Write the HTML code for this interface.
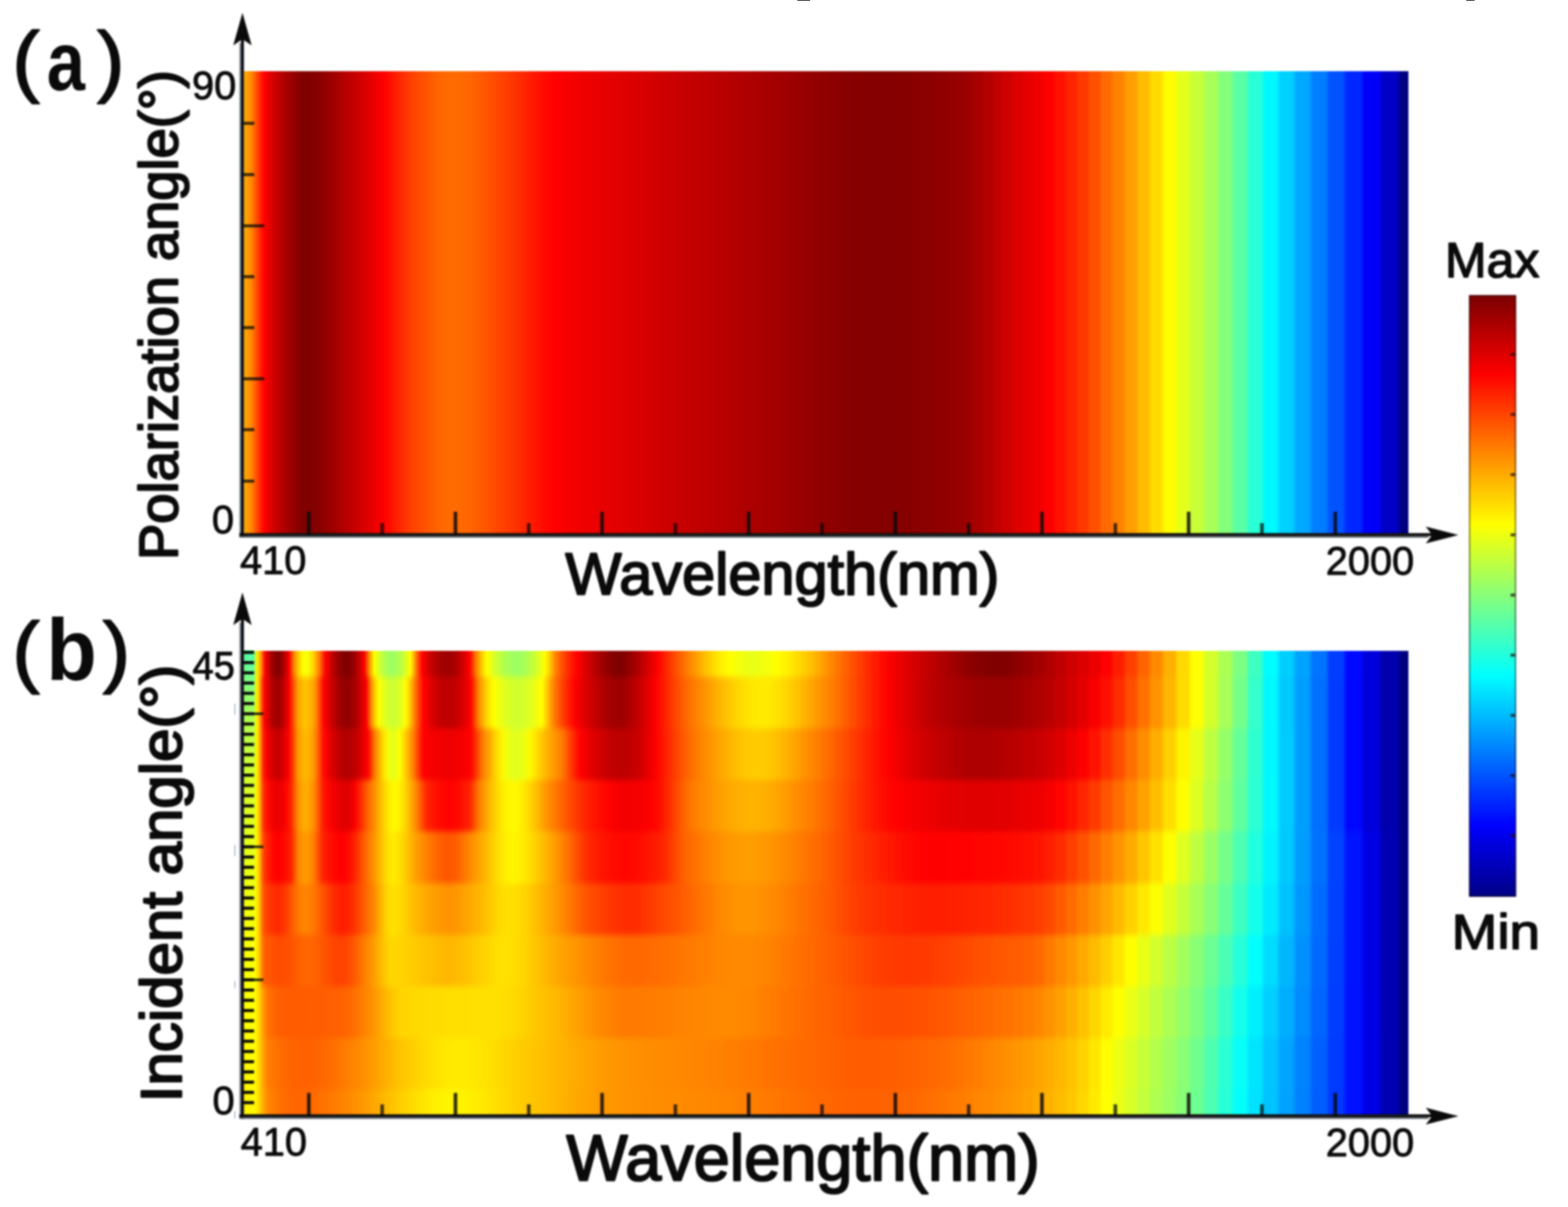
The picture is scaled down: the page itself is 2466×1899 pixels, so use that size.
<!DOCTYPE html>
<html lang="en">
<head>
<meta charset="utf-8">
<title>Absorption maps: polarization angle and incident angle versus wavelength</title>
<style>
html,body{margin:0;padding:0;background:#fff;}
body{width:2466px;height:1899px;overflow:hidden;font-family:"Liberation Sans",sans-serif;}
svg{display:block;}
</style>
</head>
<body>
<svg width="2466" height="1899" viewBox="0 0 2466 1899">
<defs>
<linearGradient id="ga" gradientUnits="userSpaceOnUse" x1="382.5" y1="0" x2="2215.0" y2="0"><stop offset="0.00%" stop-color="#ffae00"/><stop offset="0.03%" stop-color="#ffad00"/><stop offset="0.44%" stop-color="#ff9900"/><stop offset="0.52%" stop-color="#ff9400"/><stop offset="0.88%" stop-color="#ff7100"/><stop offset="1.32%" stop-color="#ff3600"/><stop offset="1.71%" stop-color="#ff0900"/><stop offset="1.83%" stop-color="#ff0000"/><stop offset="2.11%" stop-color="#ed0000"/><stop offset="2.52%" stop-color="#d70000"/><stop offset="2.94%" stop-color="#c30000"/><stop offset="3.37%" stop-color="#b30000"/><stop offset="3.68%" stop-color="#a80000"/><stop offset="3.82%" stop-color="#a40000"/><stop offset="4.28%" stop-color="#960000"/><stop offset="4.75%" stop-color="#890000"/><stop offset="5.14%" stop-color="#820000"/><stop offset="5.48%" stop-color="#800000"/><stop offset="5.54%" stop-color="#800000"/><stop offset="5.96%" stop-color="#820000"/><stop offset="6.38%" stop-color="#860000"/><stop offset="6.81%" stop-color="#8d0000"/><stop offset="7.26%" stop-color="#960000"/><stop offset="7.72%" stop-color="#a00000"/><stop offset="8.19%" stop-color="#aa0000"/><stop offset="8.59%" stop-color="#b30000"/><stop offset="8.67%" stop-color="#b40000"/><stop offset="9.17%" stop-color="#be0000"/><stop offset="9.55%" stop-color="#c60000"/><stop offset="9.94%" stop-color="#ce0000"/><stop offset="10.34%" stop-color="#d70000"/><stop offset="10.75%" stop-color="#e10000"/><stop offset="11.17%" stop-color="#ea0000"/><stop offset="11.60%" stop-color="#f50000"/><stop offset="12.03%" stop-color="#ff0000"/><stop offset="12.04%" stop-color="#ff0000"/><stop offset="12.49%" stop-color="#ff0c00"/><stop offset="12.95%" stop-color="#ff1900"/><stop offset="13.42%" stop-color="#ff2600"/><stop offset="13.90%" stop-color="#ff3300"/><stop offset="14.40%" stop-color="#ff3f00"/><stop offset="14.60%" stop-color="#ff4200"/><stop offset="14.90%" stop-color="#ff4700"/><stop offset="15.42%" stop-color="#ff5000"/><stop offset="15.96%" stop-color="#ff5900"/><stop offset="16.51%" stop-color="#ff6100"/><stop offset="17.07%" stop-color="#ff6700"/><stop offset="17.45%" stop-color="#ff6a00"/><stop offset="17.84%" stop-color="#ff6b00"/><stop offset="18.24%" stop-color="#ff6b00"/><stop offset="18.64%" stop-color="#ff6900"/><stop offset="19.05%" stop-color="#ff6700"/><stop offset="19.47%" stop-color="#ff6400"/><stop offset="19.90%" stop-color="#ff5f00"/><stop offset="20.34%" stop-color="#ff5a00"/><stop offset="20.78%" stop-color="#ff5500"/><stop offset="21.23%" stop-color="#ff4f00"/><stop offset="21.69%" stop-color="#ff4900"/><stop offset="22.16%" stop-color="#ff4300"/><stop offset="22.24%" stop-color="#ff4200"/><stop offset="22.64%" stop-color="#ff3d00"/><stop offset="23.13%" stop-color="#ff3600"/><stop offset="23.63%" stop-color="#ff2e00"/><stop offset="24.14%" stop-color="#ff2500"/><stop offset="24.66%" stop-color="#ff1c00"/><stop offset="25.19%" stop-color="#ff1400"/><stop offset="25.74%" stop-color="#ff0b00"/><stop offset="26.29%" stop-color="#ff0500"/><stop offset="26.77%" stop-color="#ff0000"/><stop offset="26.86%" stop-color="#fe0000"/><stop offset="27.44%" stop-color="#fa0000"/><stop offset="28.03%" stop-color="#f60000"/><stop offset="28.63%" stop-color="#f30000"/><stop offset="29.25%" stop-color="#ef0000"/><stop offset="29.89%" stop-color="#ec0000"/><stop offset="30.53%" stop-color="#e90000"/><stop offset="31.20%" stop-color="#e60000"/><stop offset="31.87%" stop-color="#e30000"/><stop offset="32.57%" stop-color="#e10000"/><stop offset="33.28%" stop-color="#dd0000"/><stop offset="33.70%" stop-color="#db0000"/><stop offset="34.01%" stop-color="#da0000"/><stop offset="34.76%" stop-color="#d60000"/><stop offset="35.53%" stop-color="#d20000"/><stop offset="35.92%" stop-color="#d00000"/><stop offset="36.31%" stop-color="#ce0000"/><stop offset="36.71%" stop-color="#cc0000"/><stop offset="37.12%" stop-color="#ca0000"/><stop offset="37.53%" stop-color="#c80000"/><stop offset="37.95%" stop-color="#c60000"/><stop offset="38.37%" stop-color="#c40000"/><stop offset="38.80%" stop-color="#c20000"/><stop offset="39.23%" stop-color="#c00000"/><stop offset="39.67%" stop-color="#be0000"/><stop offset="40.11%" stop-color="#bc0000"/><stop offset="40.57%" stop-color="#ba0000"/><stop offset="41.02%" stop-color="#b80000"/><stop offset="41.49%" stop-color="#b60000"/><stop offset="41.96%" stop-color="#b40000"/><stop offset="42.44%" stop-color="#b20000"/><stop offset="42.92%" stop-color="#af0000"/><stop offset="43.33%" stop-color="#ad0000"/><stop offset="43.49%" stop-color="#ad0000"/><stop offset="43.82%" stop-color="#ab0000"/><stop offset="43.99%" stop-color="#ab0000"/><stop offset="44.33%" stop-color="#a90000"/><stop offset="44.50%" stop-color="#a90000"/><stop offset="44.84%" stop-color="#a70000"/><stop offset="45.01%" stop-color="#a70000"/><stop offset="45.36%" stop-color="#a50000"/><stop offset="45.53%" stop-color="#a50000"/><stop offset="45.89%" stop-color="#a20000"/><stop offset="46.06%" stop-color="#a20000"/><stop offset="46.42%" stop-color="#a00000"/><stop offset="46.60%" stop-color="#a00000"/><stop offset="46.96%" stop-color="#9d0000"/><stop offset="47.14%" stop-color="#9d0000"/><stop offset="47.51%" stop-color="#9b0000"/><stop offset="47.70%" stop-color="#9b0000"/><stop offset="48.07%" stop-color="#980000"/><stop offset="48.26%" stop-color="#980000"/><stop offset="48.64%" stop-color="#950000"/><stop offset="48.83%" stop-color="#950000"/><stop offset="49.21%" stop-color="#920000"/><stop offset="49.41%" stop-color="#920000"/><stop offset="49.79%" stop-color="#900000"/><stop offset="50.00%" stop-color="#900000"/><stop offset="50.39%" stop-color="#8d0000"/><stop offset="50.60%" stop-color="#8d0000"/><stop offset="50.99%" stop-color="#8b0000"/><stop offset="51.21%" stop-color="#8b0000"/><stop offset="51.60%" stop-color="#890000"/><stop offset="51.83%" stop-color="#890000"/><stop offset="52.22%" stop-color="#870000"/><stop offset="52.46%" stop-color="#870000"/><stop offset="52.85%" stop-color="#860000"/><stop offset="53.10%" stop-color="#860000"/><stop offset="53.49%" stop-color="#850000"/><stop offset="55.77%" stop-color="#850000"/><stop offset="56.16%" stop-color="#860000"/><stop offset="56.47%" stop-color="#860000"/><stop offset="56.85%" stop-color="#870000"/><stop offset="57.18%" stop-color="#870000"/><stop offset="57.56%" stop-color="#890000"/><stop offset="57.90%" stop-color="#890000"/><stop offset="58.28%" stop-color="#8b0000"/><stop offset="58.63%" stop-color="#8b0000"/><stop offset="59.01%" stop-color="#8d0000"/><stop offset="59.37%" stop-color="#8d0000"/><stop offset="59.76%" stop-color="#900000"/><stop offset="60.13%" stop-color="#900000"/><stop offset="60.51%" stop-color="#930000"/><stop offset="60.91%" stop-color="#930000"/><stop offset="61.29%" stop-color="#970000"/><stop offset="61.69%" stop-color="#970000"/><stop offset="62.07%" stop-color="#9e0000"/><stop offset="62.49%" stop-color="#9e0000"/><stop offset="62.87%" stop-color="#a80000"/><stop offset="63.31%" stop-color="#a80000"/><stop offset="63.69%" stop-color="#b50000"/><stop offset="64.14%" stop-color="#b50000"/><stop offset="64.52%" stop-color="#c20000"/><stop offset="64.98%" stop-color="#c20000"/><stop offset="65.36%" stop-color="#cf0000"/><stop offset="65.84%" stop-color="#cf0000"/><stop offset="66.23%" stop-color="#dc0000"/><stop offset="66.72%" stop-color="#dc0000"/><stop offset="67.11%" stop-color="#e70000"/><stop offset="67.62%" stop-color="#e70000"/><stop offset="68.00%" stop-color="#f20000"/><stop offset="68.53%" stop-color="#f20000"/><stop offset="68.91%" stop-color="#ff0000"/><stop offset="69.46%" stop-color="#ff0000"/><stop offset="69.84%" stop-color="#ff1100"/><stop offset="70.41%" stop-color="#ff1100"/><stop offset="70.79%" stop-color="#ff2400"/><stop offset="71.38%" stop-color="#ff2400"/><stop offset="71.76%" stop-color="#ff3900"/><stop offset="72.37%" stop-color="#ff3900"/><stop offset="72.75%" stop-color="#ff5000"/><stop offset="73.38%" stop-color="#ff5000"/><stop offset="73.76%" stop-color="#ff6900"/><stop offset="74.41%" stop-color="#ff6900"/><stop offset="74.79%" stop-color="#ff8200"/><stop offset="75.46%" stop-color="#ff8200"/><stop offset="75.84%" stop-color="#ff9e00"/><stop offset="76.53%" stop-color="#ff9e00"/><stop offset="76.91%" stop-color="#ffbc00"/><stop offset="77.62%" stop-color="#ffbc00"/><stop offset="78.01%" stop-color="#ffdc00"/><stop offset="78.74%" stop-color="#ffdc00"/><stop offset="79.13%" stop-color="#fffb00"/><stop offset="79.89%" stop-color="#fffb00"/><stop offset="80.27%" stop-color="#e4ff1b"/><stop offset="81.06%" stop-color="#e4ff1b"/><stop offset="81.44%" stop-color="#c7ff38"/><stop offset="82.25%" stop-color="#c7ff38"/><stop offset="82.63%" stop-color="#a7ff58"/><stop offset="83.47%" stop-color="#a7ff58"/><stop offset="83.86%" stop-color="#84ff7b"/><stop offset="84.72%" stop-color="#84ff7b"/><stop offset="85.11%" stop-color="#5affa5"/><stop offset="86.00%" stop-color="#5affa5"/><stop offset="86.39%" stop-color="#29ffd6"/><stop offset="87.31%" stop-color="#29ffd6"/><stop offset="87.69%" stop-color="#00f9ff"/><stop offset="88.65%" stop-color="#00f9ff"/><stop offset="89.03%" stop-color="#00d0ff"/><stop offset="90.02%" stop-color="#00d0ff"/><stop offset="90.41%" stop-color="#00a8ff"/><stop offset="91.43%" stop-color="#00a8ff"/><stop offset="91.81%" stop-color="#007eff"/><stop offset="92.87%" stop-color="#007eff"/><stop offset="93.25%" stop-color="#0053ff"/><stop offset="94.34%" stop-color="#0053ff"/><stop offset="94.73%" stop-color="#0027ff"/><stop offset="95.86%" stop-color="#0027ff"/><stop offset="96.24%" stop-color="#0000f7"/><stop offset="97.41%" stop-color="#0000f7"/><stop offset="97.79%" stop-color="#0000c7"/><stop offset="99.00%" stop-color="#0000c7"/><stop offset="99.38%" stop-color="#000080"/><stop offset="100.00%" stop-color="#000080"/></linearGradient>
<linearGradient id="gb0" gradientUnits="userSpaceOnUse" x1="382.5" y1="0" x2="2215.0" y2="0"><stop offset="0.00%" stop-color="#80ff80"/><stop offset="0.79%" stop-color="#80ff80"/><stop offset="0.88%" stop-color="#beff41"/><stop offset="0.95%" stop-color="#ffff00"/><stop offset="1.23%" stop-color="#ffe500"/><stop offset="1.32%" stop-color="#ffd200"/><stop offset="1.50%" stop-color="#ff9e00"/><stop offset="1.71%" stop-color="#ff4000"/><stop offset="1.88%" stop-color="#ff0000"/><stop offset="2.11%" stop-color="#d50000"/><stop offset="2.52%" stop-color="#9a0000"/><stop offset="2.94%" stop-color="#800000"/><stop offset="2.97%" stop-color="#800000"/><stop offset="3.37%" stop-color="#9a0000"/><stop offset="3.82%" stop-color="#e30000"/><stop offset="3.96%" stop-color="#ff0000"/><stop offset="4.28%" stop-color="#ff7000"/><stop offset="4.34%" stop-color="#ff8000"/><stop offset="4.75%" stop-color="#ffce00"/><stop offset="5.14%" stop-color="#feff01"/><stop offset="5.38%" stop-color="#f5ff0a"/><stop offset="5.54%" stop-color="#f9ff06"/><stop offset="5.96%" stop-color="#ffdb00"/><stop offset="6.38%" stop-color="#ff9700"/><stop offset="6.52%" stop-color="#ff8000"/><stop offset="6.81%" stop-color="#ff3800"/><stop offset="7.07%" stop-color="#ff0000"/><stop offset="7.26%" stop-color="#e90000"/><stop offset="7.72%" stop-color="#b90000"/><stop offset="8.19%" stop-color="#950000"/><stop offset="8.67%" stop-color="#810000"/><stop offset="8.87%" stop-color="#800000"/><stop offset="9.17%" stop-color="#850000"/><stop offset="9.55%" stop-color="#9c0000"/><stop offset="9.94%" stop-color="#c20000"/><stop offset="10.34%" stop-color="#f70000"/><stop offset="10.40%" stop-color="#ff0000"/><stop offset="10.75%" stop-color="#ff7800"/><stop offset="10.78%" stop-color="#ff8000"/><stop offset="11.17%" stop-color="#fff000"/><stop offset="11.27%" stop-color="#ffff00"/><stop offset="11.60%" stop-color="#dbff24"/><stop offset="12.04%" stop-color="#b7ff48"/><stop offset="12.49%" stop-color="#a1ff5e"/><stop offset="12.74%" stop-color="#9eff61"/><stop offset="12.95%" stop-color="#a0ff5f"/><stop offset="13.42%" stop-color="#b2ff4d"/><stop offset="13.90%" stop-color="#d5ff2a"/><stop offset="14.32%" stop-color="#ffff00"/><stop offset="14.40%" stop-color="#fff400"/><stop offset="14.82%" stop-color="#ff8000"/><stop offset="14.90%" stop-color="#ff6800"/><stop offset="15.36%" stop-color="#ff0000"/><stop offset="15.42%" stop-color="#fa0000"/><stop offset="15.96%" stop-color="#d20000"/><stop offset="16.51%" stop-color="#b50000"/><stop offset="17.07%" stop-color="#a30000"/><stop offset="17.45%" stop-color="#9e0000"/><stop offset="17.54%" stop-color="#9e0000"/><stop offset="17.84%" stop-color="#a10000"/><stop offset="18.24%" stop-color="#ad0000"/><stop offset="18.64%" stop-color="#c30000"/><stop offset="19.05%" stop-color="#e10000"/><stop offset="19.40%" stop-color="#ff0000"/><stop offset="19.47%" stop-color="#ff0900"/><stop offset="19.90%" stop-color="#ff6c00"/><stop offset="20.00%" stop-color="#ff8000"/><stop offset="20.34%" stop-color="#ffb800"/><stop offset="20.78%" stop-color="#fff300"/><stop offset="20.93%" stop-color="#ffff00"/><stop offset="21.23%" stop-color="#ecff13"/><stop offset="21.69%" stop-color="#d1ff2e"/><stop offset="22.16%" stop-color="#bbff44"/><stop offset="22.64%" stop-color="#aaff55"/><stop offset="23.13%" stop-color="#a0ff5f"/><stop offset="23.44%" stop-color="#9eff61"/><stop offset="23.63%" stop-color="#9fff60"/><stop offset="24.14%" stop-color="#a8ff57"/><stop offset="24.66%" stop-color="#baff45"/><stop offset="25.19%" stop-color="#d4ff2b"/><stop offset="25.74%" stop-color="#f5ff0a"/><stop offset="25.89%" stop-color="#ffff00"/><stop offset="26.29%" stop-color="#ffcd00"/><stop offset="26.82%" stop-color="#ff8000"/><stop offset="26.86%" stop-color="#ff7c00"/><stop offset="27.44%" stop-color="#ff4b00"/><stop offset="28.03%" stop-color="#ff2300"/><stop offset="28.63%" stop-color="#ff0200"/><stop offset="28.68%" stop-color="#ff0000"/><stop offset="29.25%" stop-color="#e30000"/><stop offset="29.89%" stop-color="#c50000"/><stop offset="30.53%" stop-color="#a90000"/><stop offset="31.20%" stop-color="#920000"/><stop offset="31.87%" stop-color="#830000"/><stop offset="32.39%" stop-color="#800000"/><stop offset="32.57%" stop-color="#810000"/><stop offset="33.28%" stop-color="#970000"/><stop offset="33.70%" stop-color="#a80000"/><stop offset="34.01%" stop-color="#b50000"/><stop offset="34.76%" stop-color="#d80000"/><stop offset="35.53%" stop-color="#fe0000"/><stop offset="35.55%" stop-color="#ff0000"/><stop offset="35.92%" stop-color="#ff1200"/><stop offset="36.31%" stop-color="#ff2600"/><stop offset="36.71%" stop-color="#ff3a00"/><stop offset="37.12%" stop-color="#ff4f00"/><stop offset="37.53%" stop-color="#ff6300"/><stop offset="37.95%" stop-color="#ff7600"/><stop offset="38.17%" stop-color="#ff8000"/><stop offset="38.37%" stop-color="#ff8800"/><stop offset="38.80%" stop-color="#ff9a00"/><stop offset="39.23%" stop-color="#ffad00"/><stop offset="39.67%" stop-color="#ffbf00"/><stop offset="40.11%" stop-color="#ffd000"/><stop offset="40.57%" stop-color="#ffe100"/><stop offset="41.02%" stop-color="#ffef00"/><stop offset="41.49%" stop-color="#fffa00"/><stop offset="41.77%" stop-color="#ffff00"/><stop offset="41.96%" stop-color="#fcff03"/><stop offset="42.44%" stop-color="#f5ff0a"/><stop offset="42.92%" stop-color="#efff10"/><stop offset="43.33%" stop-color="#ebff14"/><stop offset="43.99%" stop-color="#ebff14"/><stop offset="44.33%" stop-color="#eeff11"/><stop offset="44.50%" stop-color="#eeff11"/><stop offset="44.84%" stop-color="#f4ff0b"/><stop offset="45.01%" stop-color="#f4ff0b"/><stop offset="45.36%" stop-color="#fbff04"/><stop offset="45.53%" stop-color="#fbff04"/><stop offset="45.89%" stop-color="#fffc00"/><stop offset="46.06%" stop-color="#fffc00"/><stop offset="46.42%" stop-color="#fff300"/><stop offset="46.60%" stop-color="#fff300"/><stop offset="46.96%" stop-color="#ffe800"/><stop offset="47.14%" stop-color="#ffe800"/><stop offset="47.51%" stop-color="#ffdb00"/><stop offset="47.70%" stop-color="#ffdb00"/><stop offset="48.07%" stop-color="#ffce00"/><stop offset="48.26%" stop-color="#ffce00"/><stop offset="48.64%" stop-color="#ffbf00"/><stop offset="48.83%" stop-color="#ffbf00"/><stop offset="49.21%" stop-color="#ffad00"/><stop offset="49.41%" stop-color="#ffad00"/><stop offset="49.79%" stop-color="#ff9a00"/><stop offset="50.00%" stop-color="#ff9a00"/><stop offset="50.39%" stop-color="#ff8600"/><stop offset="50.60%" stop-color="#ff8600"/><stop offset="50.99%" stop-color="#ff7400"/><stop offset="51.21%" stop-color="#ff7400"/><stop offset="51.60%" stop-color="#ff6200"/><stop offset="51.83%" stop-color="#ff6200"/><stop offset="52.22%" stop-color="#ff5000"/><stop offset="52.46%" stop-color="#ff5000"/><stop offset="52.85%" stop-color="#ff3d00"/><stop offset="53.10%" stop-color="#ff3d00"/><stop offset="53.49%" stop-color="#ff2b00"/><stop offset="53.76%" stop-color="#ff2b00"/><stop offset="54.14%" stop-color="#ff1a00"/><stop offset="54.42%" stop-color="#ff1a00"/><stop offset="54.80%" stop-color="#ff0900"/><stop offset="55.09%" stop-color="#ff0900"/><stop offset="55.47%" stop-color="#f90000"/><stop offset="55.77%" stop-color="#f90000"/><stop offset="56.16%" stop-color="#ec0000"/><stop offset="56.47%" stop-color="#ec0000"/><stop offset="56.85%" stop-color="#de0000"/><stop offset="57.18%" stop-color="#de0000"/><stop offset="57.56%" stop-color="#d20000"/><stop offset="57.90%" stop-color="#d20000"/><stop offset="58.28%" stop-color="#c70000"/><stop offset="58.63%" stop-color="#c70000"/><stop offset="59.01%" stop-color="#bc0000"/><stop offset="59.37%" stop-color="#bc0000"/><stop offset="59.76%" stop-color="#b00000"/><stop offset="60.13%" stop-color="#b00000"/><stop offset="60.51%" stop-color="#a50000"/><stop offset="60.91%" stop-color="#a50000"/><stop offset="61.29%" stop-color="#990000"/><stop offset="61.69%" stop-color="#990000"/><stop offset="62.07%" stop-color="#8f0000"/><stop offset="62.49%" stop-color="#8f0000"/><stop offset="62.87%" stop-color="#870000"/><stop offset="63.31%" stop-color="#870000"/><stop offset="63.69%" stop-color="#810000"/><stop offset="64.14%" stop-color="#810000"/><stop offset="64.52%" stop-color="#800000"/><stop offset="64.98%" stop-color="#800000"/><stop offset="65.36%" stop-color="#830000"/><stop offset="65.84%" stop-color="#830000"/><stop offset="66.23%" stop-color="#8c0000"/><stop offset="66.72%" stop-color="#8c0000"/><stop offset="67.11%" stop-color="#970000"/><stop offset="67.62%" stop-color="#970000"/><stop offset="68.00%" stop-color="#a20000"/><stop offset="68.53%" stop-color="#a20000"/><stop offset="68.91%" stop-color="#b00000"/><stop offset="69.46%" stop-color="#b00000"/><stop offset="69.84%" stop-color="#bf0000"/><stop offset="70.41%" stop-color="#bf0000"/><stop offset="70.79%" stop-color="#ce0000"/><stop offset="71.38%" stop-color="#ce0000"/><stop offset="71.76%" stop-color="#dc0000"/><stop offset="72.37%" stop-color="#dc0000"/><stop offset="72.75%" stop-color="#ec0000"/><stop offset="73.38%" stop-color="#ec0000"/><stop offset="73.76%" stop-color="#ff0100"/><stop offset="74.41%" stop-color="#ff0100"/><stop offset="74.79%" stop-color="#ff1d00"/><stop offset="75.46%" stop-color="#ff1d00"/><stop offset="75.84%" stop-color="#ff3f00"/><stop offset="76.53%" stop-color="#ff3f00"/><stop offset="76.91%" stop-color="#ff6400"/><stop offset="77.62%" stop-color="#ff6400"/><stop offset="78.01%" stop-color="#ff8a00"/><stop offset="78.74%" stop-color="#ff8a00"/><stop offset="79.13%" stop-color="#ffb000"/><stop offset="79.89%" stop-color="#ffb000"/><stop offset="80.27%" stop-color="#ffd900"/><stop offset="81.06%" stop-color="#ffd900"/><stop offset="81.44%" stop-color="#fdff02"/><stop offset="82.25%" stop-color="#fdff02"/><stop offset="82.63%" stop-color="#d5ff2a"/><stop offset="83.47%" stop-color="#d5ff2a"/><stop offset="83.86%" stop-color="#acff53"/><stop offset="84.72%" stop-color="#acff53"/><stop offset="85.11%" stop-color="#7dff82"/><stop offset="86.00%" stop-color="#7dff82"/><stop offset="86.39%" stop-color="#3dffc2"/><stop offset="87.31%" stop-color="#3dffc2"/><stop offset="87.69%" stop-color="#00fdff"/><stop offset="88.65%" stop-color="#00fdff"/><stop offset="89.03%" stop-color="#00ceff"/><stop offset="90.02%" stop-color="#00ceff"/><stop offset="90.41%" stop-color="#00a3ff"/><stop offset="91.43%" stop-color="#00a3ff"/><stop offset="91.81%" stop-color="#0074ff"/><stop offset="92.87%" stop-color="#0074ff"/><stop offset="93.25%" stop-color="#003dff"/><stop offset="94.34%" stop-color="#003dff"/><stop offset="94.73%" stop-color="#0008ff"/><stop offset="95.86%" stop-color="#0008ff"/><stop offset="96.24%" stop-color="#0000da"/><stop offset="97.41%" stop-color="#0000da"/><stop offset="97.79%" stop-color="#0000ad"/><stop offset="99.00%" stop-color="#0000ad"/><stop offset="99.38%" stop-color="#000080"/><stop offset="100.00%" stop-color="#000080"/></linearGradient>
<linearGradient id="gb1" gradientUnits="userSpaceOnUse" x1="382.5" y1="0" x2="2215.0" y2="0"><stop offset="0.00%" stop-color="#94ff6b"/><stop offset="0.79%" stop-color="#94ff6b"/><stop offset="0.88%" stop-color="#c8ff37"/><stop offset="0.95%" stop-color="#ffff00"/><stop offset="1.23%" stop-color="#ffe500"/><stop offset="1.32%" stop-color="#ffce00"/><stop offset="1.71%" stop-color="#ff2000"/><stop offset="1.83%" stop-color="#ff0000"/><stop offset="2.11%" stop-color="#d90000"/><stop offset="2.52%" stop-color="#b00000"/><stop offset="2.94%" stop-color="#9e0000"/><stop offset="2.97%" stop-color="#9e0000"/><stop offset="3.37%" stop-color="#b30000"/><stop offset="3.82%" stop-color="#eb0000"/><stop offset="3.96%" stop-color="#ff0000"/><stop offset="4.28%" stop-color="#ff4b00"/><stop offset="4.67%" stop-color="#ff9e00"/><stop offset="4.75%" stop-color="#ffa500"/><stop offset="5.14%" stop-color="#ffbd00"/><stop offset="5.38%" stop-color="#ffc200"/><stop offset="5.54%" stop-color="#ffbf00"/><stop offset="5.96%" stop-color="#ffa800"/><stop offset="6.08%" stop-color="#ff9e00"/><stop offset="6.38%" stop-color="#ff7100"/><stop offset="6.81%" stop-color="#ff1300"/><stop offset="6.96%" stop-color="#ff0000"/><stop offset="7.26%" stop-color="#e40000"/><stop offset="7.72%" stop-color="#c10000"/><stop offset="8.19%" stop-color="#a50000"/><stop offset="8.67%" stop-color="#950000"/><stop offset="8.87%" stop-color="#940000"/><stop offset="9.17%" stop-color="#970000"/><stop offset="9.55%" stop-color="#a60000"/><stop offset="9.94%" stop-color="#c00000"/><stop offset="10.34%" stop-color="#e60000"/><stop offset="10.56%" stop-color="#ff0000"/><stop offset="10.75%" stop-color="#ff3c00"/><stop offset="10.94%" stop-color="#ff8000"/><stop offset="11.17%" stop-color="#ffb500"/><stop offset="11.60%" stop-color="#fffb00"/><stop offset="11.65%" stop-color="#ffff00"/><stop offset="12.04%" stop-color="#e5ff1a"/><stop offset="12.49%" stop-color="#d2ff2d"/><stop offset="12.85%" stop-color="#ccff33"/><stop offset="12.95%" stop-color="#cdff32"/><stop offset="13.42%" stop-color="#dcff23"/><stop offset="13.90%" stop-color="#fcff03"/><stop offset="13.94%" stop-color="#ffff00"/><stop offset="14.40%" stop-color="#ffb900"/><stop offset="14.71%" stop-color="#ff8000"/><stop offset="14.90%" stop-color="#ff5d00"/><stop offset="15.42%" stop-color="#ff0800"/><stop offset="15.53%" stop-color="#ff0000"/><stop offset="15.96%" stop-color="#e70000"/><stop offset="16.51%" stop-color="#d00000"/><stop offset="17.07%" stop-color="#c10000"/><stop offset="17.45%" stop-color="#bd0000"/><stop offset="17.54%" stop-color="#bd0000"/><stop offset="17.84%" stop-color="#be0000"/><stop offset="18.24%" stop-color="#c50000"/><stop offset="18.64%" stop-color="#d20000"/><stop offset="19.05%" stop-color="#e40000"/><stop offset="19.47%" stop-color="#fd0000"/><stop offset="19.51%" stop-color="#ff0000"/><stop offset="19.90%" stop-color="#ff4a00"/><stop offset="20.16%" stop-color="#ff8000"/><stop offset="20.34%" stop-color="#ff9600"/><stop offset="20.78%" stop-color="#ffc900"/><stop offset="21.23%" stop-color="#ffef00"/><stop offset="21.53%" stop-color="#ffff00"/><stop offset="21.69%" stop-color="#f9ff06"/><stop offset="22.16%" stop-color="#e9ff16"/><stop offset="22.64%" stop-color="#dcff23"/><stop offset="23.13%" stop-color="#d4ff2b"/><stop offset="23.55%" stop-color="#d1ff2e"/><stop offset="23.63%" stop-color="#d1ff2e"/><stop offset="24.14%" stop-color="#d6ff29"/><stop offset="24.66%" stop-color="#e0ff1f"/><stop offset="25.19%" stop-color="#f1ff0e"/><stop offset="25.57%" stop-color="#ffff00"/><stop offset="25.74%" stop-color="#fff400"/><stop offset="26.29%" stop-color="#ffac00"/><stop offset="26.66%" stop-color="#ff8000"/><stop offset="26.86%" stop-color="#ff6e00"/><stop offset="27.44%" stop-color="#ff3f00"/><stop offset="28.03%" stop-color="#ff1800"/><stop offset="28.51%" stop-color="#ff0000"/><stop offset="28.63%" stop-color="#fa0000"/><stop offset="29.25%" stop-color="#e30000"/><stop offset="29.89%" stop-color="#cd0000"/><stop offset="30.53%" stop-color="#b90000"/><stop offset="31.20%" stop-color="#aa0000"/><stop offset="31.87%" stop-color="#a00000"/><stop offset="32.39%" stop-color="#9e0000"/><stop offset="32.57%" stop-color="#9f0000"/><stop offset="33.28%" stop-color="#b00000"/><stop offset="33.70%" stop-color="#bd0000"/><stop offset="34.01%" stop-color="#c70000"/><stop offset="34.76%" stop-color="#e50000"/><stop offset="35.39%" stop-color="#ff0000"/><stop offset="35.53%" stop-color="#ff0500"/><stop offset="35.92%" stop-color="#ff1500"/><stop offset="36.31%" stop-color="#ff2500"/><stop offset="36.71%" stop-color="#ff3500"/><stop offset="37.12%" stop-color="#ff4600"/><stop offset="37.53%" stop-color="#ff5600"/><stop offset="37.95%" stop-color="#ff6500"/><stop offset="38.37%" stop-color="#ff7300"/><stop offset="38.80%" stop-color="#ff7f00"/><stop offset="38.83%" stop-color="#ff8000"/><stop offset="39.23%" stop-color="#ff8a00"/><stop offset="39.67%" stop-color="#ff9500"/><stop offset="40.11%" stop-color="#ffa100"/><stop offset="40.57%" stop-color="#ffad00"/><stop offset="41.02%" stop-color="#ffb800"/><stop offset="41.49%" stop-color="#ffc300"/><stop offset="41.96%" stop-color="#ffcd00"/><stop offset="42.44%" stop-color="#ffd600"/><stop offset="42.92%" stop-color="#ffde00"/><stop offset="43.33%" stop-color="#ffe400"/><stop offset="43.49%" stop-color="#ffe400"/><stop offset="43.82%" stop-color="#ffe800"/><stop offset="43.99%" stop-color="#ffe800"/><stop offset="44.33%" stop-color="#ffea00"/><stop offset="45.01%" stop-color="#ffea00"/><stop offset="45.36%" stop-color="#ffe600"/><stop offset="45.53%" stop-color="#ffe600"/><stop offset="45.89%" stop-color="#ffe000"/><stop offset="46.06%" stop-color="#ffe000"/><stop offset="46.42%" stop-color="#ffd700"/><stop offset="46.60%" stop-color="#ffd700"/><stop offset="46.96%" stop-color="#ffcd00"/><stop offset="47.14%" stop-color="#ffcd00"/><stop offset="47.51%" stop-color="#ffc100"/><stop offset="47.70%" stop-color="#ffc100"/><stop offset="48.07%" stop-color="#ffb400"/><stop offset="48.26%" stop-color="#ffb400"/><stop offset="48.64%" stop-color="#ffa600"/><stop offset="48.83%" stop-color="#ffa600"/><stop offset="49.21%" stop-color="#ff9800"/><stop offset="49.41%" stop-color="#ff9800"/><stop offset="49.79%" stop-color="#ff8b00"/><stop offset="50.00%" stop-color="#ff8b00"/><stop offset="50.39%" stop-color="#ff7e00"/><stop offset="50.60%" stop-color="#ff7e00"/><stop offset="50.99%" stop-color="#ff6f00"/><stop offset="51.21%" stop-color="#ff6f00"/><stop offset="51.60%" stop-color="#ff5e00"/><stop offset="51.83%" stop-color="#ff5e00"/><stop offset="52.22%" stop-color="#ff4d00"/><stop offset="52.46%" stop-color="#ff4d00"/><stop offset="52.85%" stop-color="#ff3b00"/><stop offset="53.10%" stop-color="#ff3b00"/><stop offset="53.49%" stop-color="#ff2a00"/><stop offset="53.76%" stop-color="#ff2a00"/><stop offset="54.14%" stop-color="#ff1900"/><stop offset="54.42%" stop-color="#ff1900"/><stop offset="54.80%" stop-color="#ff0900"/><stop offset="55.09%" stop-color="#ff0900"/><stop offset="55.47%" stop-color="#fa0000"/><stop offset="55.77%" stop-color="#fa0000"/><stop offset="56.16%" stop-color="#ec0000"/><stop offset="56.47%" stop-color="#ec0000"/><stop offset="56.85%" stop-color="#de0000"/><stop offset="57.18%" stop-color="#de0000"/><stop offset="57.56%" stop-color="#d10000"/><stop offset="57.90%" stop-color="#d10000"/><stop offset="58.28%" stop-color="#c50000"/><stop offset="58.63%" stop-color="#c50000"/><stop offset="59.01%" stop-color="#bb0000"/><stop offset="59.37%" stop-color="#bb0000"/><stop offset="59.76%" stop-color="#b30000"/><stop offset="60.13%" stop-color="#b30000"/><stop offset="60.51%" stop-color="#ad0000"/><stop offset="60.91%" stop-color="#ad0000"/><stop offset="61.29%" stop-color="#a70000"/><stop offset="61.69%" stop-color="#a70000"/><stop offset="62.07%" stop-color="#a10000"/><stop offset="62.49%" stop-color="#a10000"/><stop offset="62.87%" stop-color="#9d0000"/><stop offset="63.31%" stop-color="#9d0000"/><stop offset="63.69%" stop-color="#9a0000"/><stop offset="64.14%" stop-color="#9a0000"/><stop offset="64.52%" stop-color="#990000"/><stop offset="64.98%" stop-color="#990000"/><stop offset="65.36%" stop-color="#9b0000"/><stop offset="65.84%" stop-color="#9b0000"/><stop offset="66.23%" stop-color="#a00000"/><stop offset="66.72%" stop-color="#a00000"/><stop offset="67.11%" stop-color="#a70000"/><stop offset="67.62%" stop-color="#a70000"/><stop offset="68.00%" stop-color="#af0000"/><stop offset="68.53%" stop-color="#af0000"/><stop offset="68.91%" stop-color="#b90000"/><stop offset="69.46%" stop-color="#b90000"/><stop offset="69.84%" stop-color="#c50000"/><stop offset="70.41%" stop-color="#c50000"/><stop offset="70.79%" stop-color="#d40000"/><stop offset="71.38%" stop-color="#d40000"/><stop offset="71.76%" stop-color="#e50000"/><stop offset="72.37%" stop-color="#e50000"/><stop offset="72.75%" stop-color="#f80000"/><stop offset="73.38%" stop-color="#f80000"/><stop offset="73.76%" stop-color="#ff0f00"/><stop offset="74.41%" stop-color="#ff0f00"/><stop offset="74.79%" stop-color="#ff2c00"/><stop offset="75.46%" stop-color="#ff2c00"/><stop offset="75.84%" stop-color="#ff4e00"/><stop offset="76.53%" stop-color="#ff4e00"/><stop offset="76.91%" stop-color="#ff7100"/><stop offset="77.62%" stop-color="#ff7100"/><stop offset="78.01%" stop-color="#ff9300"/><stop offset="78.74%" stop-color="#ff9300"/><stop offset="79.13%" stop-color="#ffb600"/><stop offset="79.89%" stop-color="#ffb600"/><stop offset="80.27%" stop-color="#ffdb00"/><stop offset="81.06%" stop-color="#ffdb00"/><stop offset="81.44%" stop-color="#fdff02"/><stop offset="82.25%" stop-color="#fdff02"/><stop offset="82.63%" stop-color="#d4ff2b"/><stop offset="83.47%" stop-color="#d4ff2b"/><stop offset="83.86%" stop-color="#a8ff57"/><stop offset="84.72%" stop-color="#a8ff57"/><stop offset="85.11%" stop-color="#75ff8a"/><stop offset="86.00%" stop-color="#75ff8a"/><stop offset="86.39%" stop-color="#35ffca"/><stop offset="87.31%" stop-color="#35ffca"/><stop offset="87.69%" stop-color="#00f8ff"/><stop offset="88.65%" stop-color="#00f8ff"/><stop offset="89.03%" stop-color="#00c9ff"/><stop offset="90.02%" stop-color="#00c9ff"/><stop offset="90.41%" stop-color="#009eff"/><stop offset="91.43%" stop-color="#009eff"/><stop offset="91.81%" stop-color="#006fff"/><stop offset="92.87%" stop-color="#006fff"/><stop offset="93.25%" stop-color="#003bff"/><stop offset="94.34%" stop-color="#003bff"/><stop offset="94.73%" stop-color="#0007ff"/><stop offset="95.86%" stop-color="#0007ff"/><stop offset="96.24%" stop-color="#0000da"/><stop offset="97.41%" stop-color="#0000da"/><stop offset="97.79%" stop-color="#0000ad"/><stop offset="99.00%" stop-color="#0000ad"/><stop offset="99.38%" stop-color="#000080"/><stop offset="100.00%" stop-color="#000080"/></linearGradient>
<linearGradient id="gb2" gradientUnits="userSpaceOnUse" x1="382.5" y1="0" x2="2215.0" y2="0"><stop offset="0.00%" stop-color="#a8ff57"/><stop offset="0.79%" stop-color="#a8ff57"/><stop offset="0.88%" stop-color="#d2ff2d"/><stop offset="0.95%" stop-color="#ffff00"/><stop offset="1.23%" stop-color="#ffe500"/><stop offset="1.32%" stop-color="#ffcf00"/><stop offset="1.71%" stop-color="#ff2b00"/><stop offset="1.83%" stop-color="#ff0f00"/><stop offset="2.11%" stop-color="#f10000"/><stop offset="2.52%" stop-color="#d30000"/><stop offset="2.94%" stop-color="#c70000"/><stop offset="2.97%" stop-color="#c70000"/><stop offset="3.37%" stop-color="#d40000"/><stop offset="3.82%" stop-color="#fa0000"/><stop offset="4.01%" stop-color="#ff0f00"/><stop offset="4.28%" stop-color="#ff4400"/><stop offset="4.67%" stop-color="#ff9400"/><stop offset="4.75%" stop-color="#ff9b00"/><stop offset="5.14%" stop-color="#ffb300"/><stop offset="5.38%" stop-color="#ffb800"/><stop offset="5.54%" stop-color="#ffb500"/><stop offset="5.96%" stop-color="#ff9e00"/><stop offset="6.08%" stop-color="#ff9400"/><stop offset="6.38%" stop-color="#ff6900"/><stop offset="6.81%" stop-color="#ff1900"/><stop offset="6.90%" stop-color="#ff0f00"/><stop offset="7.26%" stop-color="#f40000"/><stop offset="7.72%" stop-color="#d60000"/><stop offset="8.19%" stop-color="#c00000"/><stop offset="8.67%" stop-color="#b40000"/><stop offset="8.87%" stop-color="#b30000"/><stop offset="9.17%" stop-color="#b50000"/><stop offset="9.55%" stop-color="#bf0000"/><stop offset="9.94%" stop-color="#d00000"/><stop offset="10.34%" stop-color="#e80000"/><stop offset="10.67%" stop-color="#ff0000"/><stop offset="10.75%" stop-color="#ff0a00"/><stop offset="11.17%" stop-color="#ff6400"/><stop offset="11.32%" stop-color="#ff8000"/><stop offset="11.60%" stop-color="#ffa700"/><stop offset="12.04%" stop-color="#ffe100"/><stop offset="12.49%" stop-color="#f2ff0d"/><stop offset="12.85%" stop-color="#e5ff1a"/><stop offset="12.95%" stop-color="#e6ff19"/><stop offset="13.42%" stop-color="#feff01"/><stop offset="13.90%" stop-color="#ffd000"/><stop offset="14.40%" stop-color="#ff9600"/><stop offset="14.60%" stop-color="#ff8000"/><stop offset="14.90%" stop-color="#ff5100"/><stop offset="15.42%" stop-color="#ff0400"/><stop offset="15.53%" stop-color="#ff0000"/><stop offset="15.96%" stop-color="#f90000"/><stop offset="16.51%" stop-color="#f40000"/><stop offset="17.07%" stop-color="#f10000"/><stop offset="17.45%" stop-color="#f00000"/><stop offset="17.84%" stop-color="#f00000"/><stop offset="18.24%" stop-color="#f10000"/><stop offset="18.64%" stop-color="#f50000"/><stop offset="19.05%" stop-color="#fa0000"/><stop offset="19.40%" stop-color="#ff0000"/><stop offset="19.47%" stop-color="#ff0200"/><stop offset="19.90%" stop-color="#ff2a00"/><stop offset="20.34%" stop-color="#ff6400"/><stop offset="20.60%" stop-color="#ff8000"/><stop offset="20.78%" stop-color="#ff8d00"/><stop offset="21.23%" stop-color="#ffb100"/><stop offset="21.69%" stop-color="#ffd500"/><stop offset="22.16%" stop-color="#fff400"/><stop offset="22.64%" stop-color="#f1ff0e"/><stop offset="23.13%" stop-color="#e2ff1d"/><stop offset="23.38%" stop-color="#e0ff1f"/><stop offset="23.63%" stop-color="#e2ff1d"/><stop offset="24.14%" stop-color="#efff10"/><stop offset="24.66%" stop-color="#fff900"/><stop offset="25.19%" stop-color="#ffdd00"/><stop offset="25.74%" stop-color="#ffc100"/><stop offset="26.06%" stop-color="#ffb300"/><stop offset="26.29%" stop-color="#ffa900"/><stop offset="26.86%" stop-color="#ff9200"/><stop offset="27.26%" stop-color="#ff8000"/><stop offset="27.44%" stop-color="#ff7500"/><stop offset="28.03%" stop-color="#ff4400"/><stop offset="28.63%" stop-color="#ff1300"/><stop offset="29.00%" stop-color="#ff0000"/><stop offset="29.25%" stop-color="#f70000"/><stop offset="29.89%" stop-color="#e40000"/><stop offset="30.53%" stop-color="#d40000"/><stop offset="31.20%" stop-color="#c70000"/><stop offset="31.87%" stop-color="#bf0000"/><stop offset="32.39%" stop-color="#bd0000"/><stop offset="32.57%" stop-color="#bd0000"/><stop offset="33.28%" stop-color="#c20000"/><stop offset="33.70%" stop-color="#c70000"/><stop offset="34.01%" stop-color="#cd0000"/><stop offset="34.76%" stop-color="#e70000"/><stop offset="35.39%" stop-color="#ff0000"/><stop offset="35.53%" stop-color="#ff0500"/><stop offset="35.92%" stop-color="#ff1300"/><stop offset="36.31%" stop-color="#ff2200"/><stop offset="36.71%" stop-color="#ff3100"/><stop offset="37.12%" stop-color="#ff4100"/><stop offset="37.53%" stop-color="#ff5000"/><stop offset="37.95%" stop-color="#ff5f00"/><stop offset="38.37%" stop-color="#ff6c00"/><stop offset="38.80%" stop-color="#ff7800"/><stop offset="39.10%" stop-color="#ff8000"/><stop offset="39.23%" stop-color="#ff8200"/><stop offset="39.67%" stop-color="#ff8c00"/><stop offset="40.11%" stop-color="#ff9500"/><stop offset="40.57%" stop-color="#ff9f00"/><stop offset="41.02%" stop-color="#ffa800"/><stop offset="41.49%" stop-color="#ffb000"/><stop offset="41.96%" stop-color="#ffb800"/><stop offset="42.44%" stop-color="#ffbf00"/><stop offset="42.92%" stop-color="#ffc500"/><stop offset="43.33%" stop-color="#ffc900"/><stop offset="43.49%" stop-color="#ffc900"/><stop offset="43.82%" stop-color="#ffcc00"/><stop offset="44.50%" stop-color="#ffcc00"/><stop offset="44.84%" stop-color="#ffc900"/><stop offset="45.01%" stop-color="#ffc900"/><stop offset="45.36%" stop-color="#ffc400"/><stop offset="45.53%" stop-color="#ffc400"/><stop offset="45.89%" stop-color="#ffbd00"/><stop offset="46.06%" stop-color="#ffbd00"/><stop offset="46.42%" stop-color="#ffb400"/><stop offset="46.60%" stop-color="#ffb400"/><stop offset="46.96%" stop-color="#ffaa00"/><stop offset="47.14%" stop-color="#ffaa00"/><stop offset="47.51%" stop-color="#ff9f00"/><stop offset="47.70%" stop-color="#ff9f00"/><stop offset="48.07%" stop-color="#ff9300"/><stop offset="48.26%" stop-color="#ff9300"/><stop offset="48.64%" stop-color="#ff8800"/><stop offset="48.83%" stop-color="#ff8800"/><stop offset="49.21%" stop-color="#ff7d00"/><stop offset="49.41%" stop-color="#ff7d00"/><stop offset="49.79%" stop-color="#ff7200"/><stop offset="50.00%" stop-color="#ff7200"/><stop offset="50.39%" stop-color="#ff6600"/><stop offset="50.60%" stop-color="#ff6600"/><stop offset="50.99%" stop-color="#ff5900"/><stop offset="51.21%" stop-color="#ff5900"/><stop offset="51.60%" stop-color="#ff4c00"/><stop offset="51.83%" stop-color="#ff4c00"/><stop offset="52.22%" stop-color="#ff3e00"/><stop offset="52.46%" stop-color="#ff3e00"/><stop offset="52.85%" stop-color="#ff3000"/><stop offset="53.10%" stop-color="#ff3000"/><stop offset="53.49%" stop-color="#ff2200"/><stop offset="53.76%" stop-color="#ff2200"/><stop offset="54.14%" stop-color="#ff1400"/><stop offset="54.42%" stop-color="#ff1400"/><stop offset="54.80%" stop-color="#ff0700"/><stop offset="55.09%" stop-color="#ff0700"/><stop offset="55.47%" stop-color="#fb0000"/><stop offset="55.77%" stop-color="#fb0000"/><stop offset="56.16%" stop-color="#ef0000"/><stop offset="56.47%" stop-color="#ef0000"/><stop offset="56.85%" stop-color="#e40000"/><stop offset="57.18%" stop-color="#e40000"/><stop offset="57.56%" stop-color="#d90000"/><stop offset="57.90%" stop-color="#d90000"/><stop offset="58.28%" stop-color="#cf0000"/><stop offset="58.63%" stop-color="#cf0000"/><stop offset="59.01%" stop-color="#c70000"/><stop offset="59.37%" stop-color="#c70000"/><stop offset="59.76%" stop-color="#c00000"/><stop offset="60.13%" stop-color="#c00000"/><stop offset="60.51%" stop-color="#ba0000"/><stop offset="60.91%" stop-color="#ba0000"/><stop offset="61.29%" stop-color="#b30000"/><stop offset="61.69%" stop-color="#b30000"/><stop offset="62.07%" stop-color="#af0000"/><stop offset="62.49%" stop-color="#af0000"/><stop offset="62.87%" stop-color="#ad0000"/><stop offset="63.31%" stop-color="#ad0000"/><stop offset="63.69%" stop-color="#ae0000"/><stop offset="64.14%" stop-color="#ae0000"/><stop offset="64.52%" stop-color="#b10000"/><stop offset="64.98%" stop-color="#b10000"/><stop offset="65.36%" stop-color="#b50000"/><stop offset="65.84%" stop-color="#b50000"/><stop offset="66.23%" stop-color="#bb0000"/><stop offset="66.72%" stop-color="#bb0000"/><stop offset="67.11%" stop-color="#c10000"/><stop offset="67.62%" stop-color="#c10000"/><stop offset="68.00%" stop-color="#c80000"/><stop offset="68.53%" stop-color="#c80000"/><stop offset="68.91%" stop-color="#d20000"/><stop offset="69.46%" stop-color="#d20000"/><stop offset="69.84%" stop-color="#de0000"/><stop offset="70.41%" stop-color="#de0000"/><stop offset="70.79%" stop-color="#ed0000"/><stop offset="71.38%" stop-color="#ed0000"/><stop offset="71.76%" stop-color="#fd0000"/><stop offset="72.37%" stop-color="#fd0000"/><stop offset="72.75%" stop-color="#ff1300"/><stop offset="73.38%" stop-color="#ff1300"/><stop offset="73.76%" stop-color="#ff2e00"/><stop offset="74.41%" stop-color="#ff2e00"/><stop offset="74.79%" stop-color="#ff4c00"/><stop offset="75.46%" stop-color="#ff4c00"/><stop offset="75.84%" stop-color="#ff6d00"/><stop offset="76.53%" stop-color="#ff6d00"/><stop offset="76.91%" stop-color="#ff8d00"/><stop offset="77.62%" stop-color="#ff8d00"/><stop offset="78.01%" stop-color="#ffae00"/><stop offset="78.74%" stop-color="#ffae00"/><stop offset="79.13%" stop-color="#ffd000"/><stop offset="79.89%" stop-color="#ffd000"/><stop offset="80.27%" stop-color="#fff400"/><stop offset="81.06%" stop-color="#fff400"/><stop offset="81.44%" stop-color="#e5ff1a"/><stop offset="82.25%" stop-color="#e5ff1a"/><stop offset="82.63%" stop-color="#beff41"/><stop offset="83.47%" stop-color="#beff41"/><stop offset="83.86%" stop-color="#95ff6a"/><stop offset="84.72%" stop-color="#95ff6a"/><stop offset="85.11%" stop-color="#65ff9a"/><stop offset="86.00%" stop-color="#65ff9a"/><stop offset="86.39%" stop-color="#2effd1"/><stop offset="87.31%" stop-color="#2effd1"/><stop offset="87.69%" stop-color="#00f9ff"/><stop offset="88.65%" stop-color="#00f9ff"/><stop offset="89.03%" stop-color="#00cbff"/><stop offset="90.02%" stop-color="#00cbff"/><stop offset="90.41%" stop-color="#009fff"/><stop offset="91.43%" stop-color="#009fff"/><stop offset="91.81%" stop-color="#006fff"/><stop offset="92.87%" stop-color="#006fff"/><stop offset="93.25%" stop-color="#003bff"/><stop offset="94.34%" stop-color="#003bff"/><stop offset="94.73%" stop-color="#0007ff"/><stop offset="95.86%" stop-color="#0007ff"/><stop offset="96.24%" stop-color="#0000da"/><stop offset="97.41%" stop-color="#0000da"/><stop offset="97.79%" stop-color="#0000ad"/><stop offset="99.00%" stop-color="#0000ad"/><stop offset="99.38%" stop-color="#000080"/><stop offset="100.00%" stop-color="#000080"/></linearGradient>
<linearGradient id="gb3" gradientUnits="userSpaceOnUse" x1="382.5" y1="0" x2="2215.0" y2="0"><stop offset="0.00%" stop-color="#bdff42"/><stop offset="0.79%" stop-color="#bdff42"/><stop offset="0.88%" stop-color="#dcff23"/><stop offset="0.95%" stop-color="#ffff00"/><stop offset="1.23%" stop-color="#ffe500"/><stop offset="1.32%" stop-color="#ffd000"/><stop offset="1.71%" stop-color="#ff3c00"/><stop offset="1.83%" stop-color="#ff2400"/><stop offset="2.11%" stop-color="#ff0d00"/><stop offset="2.52%" stop-color="#f40000"/><stop offset="2.94%" stop-color="#eb0000"/><stop offset="2.97%" stop-color="#eb0000"/><stop offset="3.37%" stop-color="#f30000"/><stop offset="3.82%" stop-color="#ff0c00"/><stop offset="4.01%" stop-color="#ff1a00"/><stop offset="4.28%" stop-color="#ff4400"/><stop offset="4.67%" stop-color="#ff8a00"/><stop offset="4.75%" stop-color="#ff9000"/><stop offset="5.14%" stop-color="#ffa800"/><stop offset="5.38%" stop-color="#ffad00"/><stop offset="5.54%" stop-color="#ffab00"/><stop offset="5.96%" stop-color="#ff9300"/><stop offset="6.08%" stop-color="#ff8a00"/><stop offset="6.38%" stop-color="#ff6300"/><stop offset="6.81%" stop-color="#ff2000"/><stop offset="6.90%" stop-color="#ff1a00"/><stop offset="7.26%" stop-color="#ff0800"/><stop offset="7.72%" stop-color="#f50000"/><stop offset="8.19%" stop-color="#e80000"/><stop offset="8.67%" stop-color="#e10000"/><stop offset="8.87%" stop-color="#e00000"/><stop offset="9.17%" stop-color="#e60000"/><stop offset="9.55%" stop-color="#fb0000"/><stop offset="9.94%" stop-color="#ff1d00"/><stop offset="10.34%" stop-color="#ff4300"/><stop offset="10.75%" stop-color="#ff6900"/><stop offset="11.05%" stop-color="#ff8000"/><stop offset="11.17%" stop-color="#ff8800"/><stop offset="11.60%" stop-color="#ffaa00"/><stop offset="12.04%" stop-color="#ffce00"/><stop offset="12.49%" stop-color="#ffeb00"/><stop offset="12.95%" stop-color="#fffa00"/><stop offset="13.02%" stop-color="#fffa00"/><stop offset="13.42%" stop-color="#fff100"/><stop offset="13.90%" stop-color="#ffd500"/><stop offset="14.40%" stop-color="#ffad00"/><stop offset="14.90%" stop-color="#ff8100"/><stop offset="14.92%" stop-color="#ff8000"/><stop offset="15.42%" stop-color="#ff4400"/><stop offset="15.80%" stop-color="#ff2400"/><stop offset="15.96%" stop-color="#ff1f00"/><stop offset="16.51%" stop-color="#ff1000"/><stop offset="17.07%" stop-color="#ff0700"/><stop offset="17.45%" stop-color="#ff0300"/><stop offset="17.84%" stop-color="#ff0300"/><stop offset="18.24%" stop-color="#ff0700"/><stop offset="18.64%" stop-color="#ff0e00"/><stop offset="19.05%" stop-color="#ff1900"/><stop offset="19.40%" stop-color="#ff2400"/><stop offset="19.47%" stop-color="#ff2700"/><stop offset="19.90%" stop-color="#ff5700"/><stop offset="20.27%" stop-color="#ff8000"/><stop offset="20.34%" stop-color="#ff8400"/><stop offset="20.78%" stop-color="#ffa000"/><stop offset="21.23%" stop-color="#ffbc00"/><stop offset="21.69%" stop-color="#ffd400"/><stop offset="22.16%" stop-color="#ffe800"/><stop offset="22.64%" stop-color="#fff500"/><stop offset="23.11%" stop-color="#fffa00"/><stop offset="23.13%" stop-color="#fffa00"/><stop offset="23.63%" stop-color="#fff500"/><stop offset="24.14%" stop-color="#ffe700"/><stop offset="24.66%" stop-color="#ffd300"/><stop offset="25.19%" stop-color="#ffbc00"/><stop offset="25.74%" stop-color="#ffa200"/><stop offset="26.29%" stop-color="#ff8b00"/><stop offset="26.60%" stop-color="#ff8000"/><stop offset="26.86%" stop-color="#ff7700"/><stop offset="27.44%" stop-color="#ff6200"/><stop offset="28.03%" stop-color="#ff4d00"/><stop offset="28.63%" stop-color="#ff3900"/><stop offset="29.25%" stop-color="#ff2700"/><stop offset="29.88%" stop-color="#ff1a00"/><stop offset="29.89%" stop-color="#ff1900"/><stop offset="30.53%" stop-color="#ff0e00"/><stop offset="31.20%" stop-color="#ff0400"/><stop offset="31.87%" stop-color="#fa0000"/><stop offset="32.57%" stop-color="#f50000"/><stop offset="33.28%" stop-color="#f50000"/><stop offset="34.01%" stop-color="#f80000"/><stop offset="34.76%" stop-color="#fd0000"/><stop offset="34.95%" stop-color="#ff0000"/><stop offset="35.53%" stop-color="#ff0a00"/><stop offset="35.92%" stop-color="#ff1500"/><stop offset="36.31%" stop-color="#ff2400"/><stop offset="36.71%" stop-color="#ff3400"/><stop offset="37.12%" stop-color="#ff4600"/><stop offset="37.53%" stop-color="#ff5700"/><stop offset="37.95%" stop-color="#ff6800"/><stop offset="38.37%" stop-color="#ff7500"/><stop offset="38.80%" stop-color="#ff7f00"/><stop offset="38.83%" stop-color="#ff8000"/><stop offset="39.23%" stop-color="#ff8600"/><stop offset="39.67%" stop-color="#ff8d00"/><stop offset="40.11%" stop-color="#ff9300"/><stop offset="40.57%" stop-color="#ff9a00"/><stop offset="41.02%" stop-color="#ffa000"/><stop offset="41.49%" stop-color="#ffa500"/><stop offset="41.96%" stop-color="#ffaa00"/><stop offset="42.44%" stop-color="#ffae00"/><stop offset="42.92%" stop-color="#ffb100"/><stop offset="43.33%" stop-color="#ffb200"/><stop offset="43.99%" stop-color="#ffb200"/><stop offset="44.33%" stop-color="#ffb100"/><stop offset="44.50%" stop-color="#ffb100"/><stop offset="44.84%" stop-color="#ffae00"/><stop offset="45.01%" stop-color="#ffae00"/><stop offset="45.36%" stop-color="#ffa900"/><stop offset="45.53%" stop-color="#ffa900"/><stop offset="45.89%" stop-color="#ffa300"/><stop offset="46.06%" stop-color="#ffa300"/><stop offset="46.42%" stop-color="#ff9c00"/><stop offset="46.60%" stop-color="#ff9c00"/><stop offset="46.96%" stop-color="#ff9400"/><stop offset="47.14%" stop-color="#ff9400"/><stop offset="47.51%" stop-color="#ff8c00"/><stop offset="47.70%" stop-color="#ff8c00"/><stop offset="48.07%" stop-color="#ff8400"/><stop offset="48.26%" stop-color="#ff8400"/><stop offset="48.64%" stop-color="#ff7d00"/><stop offset="48.83%" stop-color="#ff7d00"/><stop offset="49.21%" stop-color="#ff7400"/><stop offset="49.41%" stop-color="#ff7400"/><stop offset="49.79%" stop-color="#ff6a00"/><stop offset="50.00%" stop-color="#ff6a00"/><stop offset="50.39%" stop-color="#ff5f00"/><stop offset="50.60%" stop-color="#ff5f00"/><stop offset="50.99%" stop-color="#ff5300"/><stop offset="51.21%" stop-color="#ff5300"/><stop offset="51.60%" stop-color="#ff4700"/><stop offset="51.83%" stop-color="#ff4700"/><stop offset="52.22%" stop-color="#ff3a00"/><stop offset="52.46%" stop-color="#ff3a00"/><stop offset="52.85%" stop-color="#ff2d00"/><stop offset="53.10%" stop-color="#ff2d00"/><stop offset="53.49%" stop-color="#ff2100"/><stop offset="53.76%" stop-color="#ff2100"/><stop offset="54.14%" stop-color="#ff1600"/><stop offset="54.42%" stop-color="#ff1600"/><stop offset="54.80%" stop-color="#ff0c00"/><stop offset="55.09%" stop-color="#ff0c00"/><stop offset="55.47%" stop-color="#ff0400"/><stop offset="55.77%" stop-color="#ff0400"/><stop offset="56.16%" stop-color="#fe0000"/><stop offset="56.47%" stop-color="#fe0000"/><stop offset="56.85%" stop-color="#f90000"/><stop offset="57.18%" stop-color="#f90000"/><stop offset="57.56%" stop-color="#f40000"/><stop offset="57.90%" stop-color="#f40000"/><stop offset="58.28%" stop-color="#f00000"/><stop offset="58.63%" stop-color="#f00000"/><stop offset="59.01%" stop-color="#ec0000"/><stop offset="59.37%" stop-color="#ec0000"/><stop offset="59.76%" stop-color="#e80000"/><stop offset="60.13%" stop-color="#e80000"/><stop offset="60.51%" stop-color="#e50000"/><stop offset="60.91%" stop-color="#e50000"/><stop offset="61.29%" stop-color="#e30000"/><stop offset="61.69%" stop-color="#e30000"/><stop offset="62.07%" stop-color="#e10000"/><stop offset="62.49%" stop-color="#e10000"/><stop offset="62.87%" stop-color="#e00000"/><stop offset="63.31%" stop-color="#e00000"/><stop offset="63.69%" stop-color="#e10000"/><stop offset="64.14%" stop-color="#e10000"/><stop offset="64.52%" stop-color="#e20000"/><stop offset="64.98%" stop-color="#e20000"/><stop offset="65.36%" stop-color="#e40000"/><stop offset="65.84%" stop-color="#e40000"/><stop offset="66.23%" stop-color="#e70000"/><stop offset="66.72%" stop-color="#e70000"/><stop offset="67.11%" stop-color="#ea0000"/><stop offset="67.62%" stop-color="#ea0000"/><stop offset="68.00%" stop-color="#ef0000"/><stop offset="68.53%" stop-color="#ef0000"/><stop offset="68.91%" stop-color="#f70000"/><stop offset="69.46%" stop-color="#f70000"/><stop offset="69.84%" stop-color="#ff0300"/><stop offset="70.41%" stop-color="#ff0300"/><stop offset="70.79%" stop-color="#ff1200"/><stop offset="71.38%" stop-color="#ff1200"/><stop offset="71.76%" stop-color="#ff2500"/><stop offset="72.37%" stop-color="#ff2500"/><stop offset="72.75%" stop-color="#ff3b00"/><stop offset="73.38%" stop-color="#ff3b00"/><stop offset="73.76%" stop-color="#ff5400"/><stop offset="74.41%" stop-color="#ff5400"/><stop offset="74.79%" stop-color="#ff6d00"/><stop offset="75.46%" stop-color="#ff6d00"/><stop offset="75.84%" stop-color="#ff8700"/><stop offset="76.53%" stop-color="#ff8700"/><stop offset="76.91%" stop-color="#ffa200"/><stop offset="77.62%" stop-color="#ffa200"/><stop offset="78.01%" stop-color="#ffbf00"/><stop offset="78.74%" stop-color="#ffbf00"/><stop offset="79.13%" stop-color="#ffde00"/><stop offset="79.89%" stop-color="#ffde00"/><stop offset="80.27%" stop-color="#fffe00"/><stop offset="81.06%" stop-color="#fffe00"/><stop offset="81.44%" stop-color="#ddff22"/><stop offset="82.25%" stop-color="#ddff22"/><stop offset="82.63%" stop-color="#b7ff48"/><stop offset="83.47%" stop-color="#b7ff48"/><stop offset="83.86%" stop-color="#8eff71"/><stop offset="84.72%" stop-color="#8eff71"/><stop offset="85.11%" stop-color="#60ff9f"/><stop offset="86.00%" stop-color="#60ff9f"/><stop offset="86.39%" stop-color="#2cffd3"/><stop offset="87.31%" stop-color="#2cffd3"/><stop offset="87.69%" stop-color="#00f9ff"/><stop offset="88.65%" stop-color="#00f9ff"/><stop offset="89.03%" stop-color="#00cbff"/><stop offset="90.02%" stop-color="#00cbff"/><stop offset="90.41%" stop-color="#009fff"/><stop offset="91.43%" stop-color="#009fff"/><stop offset="91.81%" stop-color="#006fff"/><stop offset="92.87%" stop-color="#006fff"/><stop offset="93.25%" stop-color="#003bff"/><stop offset="94.34%" stop-color="#003bff"/><stop offset="94.73%" stop-color="#0007ff"/><stop offset="95.86%" stop-color="#0007ff"/><stop offset="96.24%" stop-color="#0000da"/><stop offset="97.41%" stop-color="#0000da"/><stop offset="97.79%" stop-color="#0000ad"/><stop offset="99.00%" stop-color="#0000ad"/><stop offset="99.38%" stop-color="#000080"/><stop offset="100.00%" stop-color="#000080"/></linearGradient>
<linearGradient id="gb4" gradientUnits="userSpaceOnUse" x1="382.5" y1="0" x2="2215.0" y2="0"><stop offset="0.00%" stop-color="#d1ff2e"/><stop offset="0.79%" stop-color="#d1ff2e"/><stop offset="0.88%" stop-color="#e6ff19"/><stop offset="0.95%" stop-color="#ffff00"/><stop offset="1.23%" stop-color="#ffe500"/><stop offset="1.32%" stop-color="#ffd200"/><stop offset="1.71%" stop-color="#ff4e00"/><stop offset="1.83%" stop-color="#ff3800"/><stop offset="2.11%" stop-color="#ff2100"/><stop offset="2.52%" stop-color="#ff0a00"/><stop offset="2.94%" stop-color="#ff0000"/><stop offset="2.97%" stop-color="#ff0000"/><stop offset="3.37%" stop-color="#ff0500"/><stop offset="3.82%" stop-color="#ff1400"/><stop offset="4.12%" stop-color="#ff2400"/><stop offset="4.28%" stop-color="#ff3900"/><stop offset="4.67%" stop-color="#ff8000"/><stop offset="4.75%" stop-color="#ff8500"/><stop offset="5.14%" stop-color="#ff9700"/><stop offset="5.32%" stop-color="#ff9900"/><stop offset="5.54%" stop-color="#ff9600"/><stop offset="5.96%" stop-color="#ff8300"/><stop offset="6.03%" stop-color="#ff8000"/><stop offset="6.38%" stop-color="#ff5900"/><stop offset="6.81%" stop-color="#ff2500"/><stop offset="6.85%" stop-color="#ff2400"/><stop offset="7.26%" stop-color="#ff1500"/><stop offset="7.72%" stop-color="#ff0900"/><stop offset="8.19%" stop-color="#ff0200"/><stop offset="8.54%" stop-color="#ff0000"/><stop offset="8.67%" stop-color="#ff0100"/><stop offset="9.17%" stop-color="#ff0f00"/><stop offset="9.55%" stop-color="#ff2400"/><stop offset="9.94%" stop-color="#ff3e00"/><stop offset="10.34%" stop-color="#ff5b00"/><stop offset="10.75%" stop-color="#ff7800"/><stop offset="11.05%" stop-color="#ff8a00"/><stop offset="11.17%" stop-color="#ff9100"/><stop offset="11.60%" stop-color="#ffae00"/><stop offset="12.04%" stop-color="#ffcc00"/><stop offset="12.49%" stop-color="#ffe400"/><stop offset="12.85%" stop-color="#ffeb00"/><stop offset="12.95%" stop-color="#ffea00"/><stop offset="13.42%" stop-color="#ffe000"/><stop offset="13.90%" stop-color="#ffcc00"/><stop offset="14.40%" stop-color="#ffb400"/><stop offset="14.90%" stop-color="#ff9c00"/><stop offset="15.14%" stop-color="#ff9400"/><stop offset="15.42%" stop-color="#ff8b00"/><stop offset="15.96%" stop-color="#ff7a00"/><stop offset="16.51%" stop-color="#ff6900"/><stop offset="17.07%" stop-color="#ff5c00"/><stop offset="17.45%" stop-color="#ff5700"/><stop offset="17.65%" stop-color="#ff5700"/><stop offset="17.84%" stop-color="#ff5800"/><stop offset="18.24%" stop-color="#ff5e00"/><stop offset="18.64%" stop-color="#ff6a00"/><stop offset="19.05%" stop-color="#ff7900"/><stop offset="19.47%" stop-color="#ff8a00"/><stop offset="19.90%" stop-color="#ff9900"/><stop offset="20.05%" stop-color="#ff9e00"/><stop offset="20.34%" stop-color="#ffa700"/><stop offset="20.78%" stop-color="#ffb700"/><stop offset="21.23%" stop-color="#ffc800"/><stop offset="21.69%" stop-color="#ffd800"/><stop offset="22.16%" stop-color="#ffe700"/><stop offset="22.64%" stop-color="#fff100"/><stop offset="23.11%" stop-color="#fff500"/><stop offset="23.13%" stop-color="#fff500"/><stop offset="23.63%" stop-color="#fff100"/><stop offset="24.14%" stop-color="#ffe900"/><stop offset="24.66%" stop-color="#ffdc00"/><stop offset="25.19%" stop-color="#ffcc00"/><stop offset="25.74%" stop-color="#ffbc00"/><stop offset="26.06%" stop-color="#ffb300"/><stop offset="26.29%" stop-color="#ffab00"/><stop offset="26.86%" stop-color="#ff9700"/><stop offset="27.44%" stop-color="#ff8100"/><stop offset="27.75%" stop-color="#ff7500"/><stop offset="28.03%" stop-color="#ff6a00"/><stop offset="28.63%" stop-color="#ff4f00"/><stop offset="29.25%" stop-color="#ff3500"/><stop offset="29.88%" stop-color="#ff2400"/><stop offset="29.89%" stop-color="#ff2400"/><stop offset="30.53%" stop-color="#ff1a00"/><stop offset="31.20%" stop-color="#ff1100"/><stop offset="31.87%" stop-color="#ff0b00"/><stop offset="32.57%" stop-color="#ff0800"/><stop offset="32.88%" stop-color="#ff0700"/><stop offset="33.28%" stop-color="#ff0800"/><stop offset="34.01%" stop-color="#ff0c00"/><stop offset="34.76%" stop-color="#ff1400"/><stop offset="35.53%" stop-color="#ff1e00"/><stop offset="35.88%" stop-color="#ff2400"/><stop offset="35.92%" stop-color="#ff2400"/><stop offset="36.31%" stop-color="#ff2d00"/><stop offset="36.71%" stop-color="#ff3b00"/><stop offset="37.12%" stop-color="#ff4a00"/><stop offset="37.53%" stop-color="#ff5800"/><stop offset="37.95%" stop-color="#ff6400"/><stop offset="38.06%" stop-color="#ff6600"/><stop offset="38.37%" stop-color="#ff6b00"/><stop offset="38.80%" stop-color="#ff7200"/><stop offset="39.23%" stop-color="#ff7900"/><stop offset="39.67%" stop-color="#ff8000"/><stop offset="40.11%" stop-color="#ff8600"/><stop offset="40.57%" stop-color="#ff8c00"/><stop offset="41.02%" stop-color="#ff9100"/><stop offset="41.49%" stop-color="#ff9600"/><stop offset="41.96%" stop-color="#ff9900"/><stop offset="42.44%" stop-color="#ff9c00"/><stop offset="42.92%" stop-color="#ff9e00"/><stop offset="43.49%" stop-color="#ff9e00"/><stop offset="43.82%" stop-color="#ff9d00"/><stop offset="43.99%" stop-color="#ff9d00"/><stop offset="44.33%" stop-color="#ff9b00"/><stop offset="44.50%" stop-color="#ff9b00"/><stop offset="44.84%" stop-color="#ff9800"/><stop offset="45.01%" stop-color="#ff9800"/><stop offset="45.36%" stop-color="#ff9400"/><stop offset="45.53%" stop-color="#ff9400"/><stop offset="45.89%" stop-color="#ff8f00"/><stop offset="46.06%" stop-color="#ff8f00"/><stop offset="46.42%" stop-color="#ff8a00"/><stop offset="46.60%" stop-color="#ff8a00"/><stop offset="46.96%" stop-color="#ff8400"/><stop offset="47.14%" stop-color="#ff8400"/><stop offset="47.51%" stop-color="#ff7e00"/><stop offset="47.70%" stop-color="#ff7e00"/><stop offset="48.07%" stop-color="#ff7700"/><stop offset="48.26%" stop-color="#ff7700"/><stop offset="48.64%" stop-color="#ff7000"/><stop offset="48.83%" stop-color="#ff7000"/><stop offset="49.21%" stop-color="#ff6a00"/><stop offset="49.41%" stop-color="#ff6a00"/><stop offset="49.79%" stop-color="#ff6200"/><stop offset="50.00%" stop-color="#ff6200"/><stop offset="50.39%" stop-color="#ff5900"/><stop offset="50.60%" stop-color="#ff5900"/><stop offset="50.99%" stop-color="#ff4f00"/><stop offset="51.21%" stop-color="#ff4f00"/><stop offset="51.60%" stop-color="#ff4600"/><stop offset="51.83%" stop-color="#ff4600"/><stop offset="52.22%" stop-color="#ff3c00"/><stop offset="52.46%" stop-color="#ff3c00"/><stop offset="52.85%" stop-color="#ff3400"/><stop offset="53.10%" stop-color="#ff3400"/><stop offset="53.49%" stop-color="#ff2d00"/><stop offset="53.76%" stop-color="#ff2d00"/><stop offset="54.14%" stop-color="#ff2600"/><stop offset="54.42%" stop-color="#ff2600"/><stop offset="54.80%" stop-color="#ff1e00"/><stop offset="55.09%" stop-color="#ff1e00"/><stop offset="55.47%" stop-color="#ff1700"/><stop offset="55.77%" stop-color="#ff1700"/><stop offset="56.16%" stop-color="#ff1000"/><stop offset="56.47%" stop-color="#ff1000"/><stop offset="56.85%" stop-color="#ff0a00"/><stop offset="57.18%" stop-color="#ff0a00"/><stop offset="57.56%" stop-color="#ff0500"/><stop offset="57.90%" stop-color="#ff0500"/><stop offset="58.28%" stop-color="#ff0100"/><stop offset="58.63%" stop-color="#ff0100"/><stop offset="59.01%" stop-color="#ff0000"/><stop offset="60.13%" stop-color="#ff0000"/><stop offset="60.51%" stop-color="#ff0100"/><stop offset="61.69%" stop-color="#ff0100"/><stop offset="62.07%" stop-color="#ff0200"/><stop offset="62.49%" stop-color="#ff0200"/><stop offset="62.87%" stop-color="#ff0400"/><stop offset="63.31%" stop-color="#ff0400"/><stop offset="63.69%" stop-color="#ff0500"/><stop offset="64.14%" stop-color="#ff0500"/><stop offset="64.52%" stop-color="#ff0700"/><stop offset="64.98%" stop-color="#ff0700"/><stop offset="65.36%" stop-color="#ff0900"/><stop offset="65.84%" stop-color="#ff0900"/><stop offset="66.23%" stop-color="#ff0c00"/><stop offset="66.72%" stop-color="#ff0c00"/><stop offset="67.11%" stop-color="#ff0f00"/><stop offset="67.62%" stop-color="#ff0f00"/><stop offset="68.00%" stop-color="#ff1400"/><stop offset="68.53%" stop-color="#ff1400"/><stop offset="68.91%" stop-color="#ff1e00"/><stop offset="69.46%" stop-color="#ff1e00"/><stop offset="69.84%" stop-color="#ff2c00"/><stop offset="70.41%" stop-color="#ff2c00"/><stop offset="70.79%" stop-color="#ff3e00"/><stop offset="71.38%" stop-color="#ff3e00"/><stop offset="71.76%" stop-color="#ff5200"/><stop offset="72.37%" stop-color="#ff5200"/><stop offset="72.75%" stop-color="#ff6800"/><stop offset="73.38%" stop-color="#ff6800"/><stop offset="73.76%" stop-color="#ff7d00"/><stop offset="74.41%" stop-color="#ff7d00"/><stop offset="74.79%" stop-color="#ff9300"/><stop offset="75.46%" stop-color="#ff9300"/><stop offset="75.84%" stop-color="#ffab00"/><stop offset="76.53%" stop-color="#ffab00"/><stop offset="76.91%" stop-color="#ffc600"/><stop offset="77.62%" stop-color="#ffc600"/><stop offset="78.01%" stop-color="#ffe200"/><stop offset="78.74%" stop-color="#ffe200"/><stop offset="79.13%" stop-color="#feff01"/><stop offset="79.89%" stop-color="#feff01"/><stop offset="80.27%" stop-color="#dfff20"/><stop offset="81.06%" stop-color="#dfff20"/><stop offset="81.44%" stop-color="#beff41"/><stop offset="82.25%" stop-color="#beff41"/><stop offset="82.63%" stop-color="#9bff64"/><stop offset="83.47%" stop-color="#9bff64"/><stop offset="83.86%" stop-color="#75ff8a"/><stop offset="84.72%" stop-color="#75ff8a"/><stop offset="85.11%" stop-color="#4cffb3"/><stop offset="86.00%" stop-color="#4cffb3"/><stop offset="86.39%" stop-color="#20ffdf"/><stop offset="87.31%" stop-color="#20ffdf"/><stop offset="87.69%" stop-color="#00f4ff"/><stop offset="88.65%" stop-color="#00f4ff"/><stop offset="89.03%" stop-color="#00c9ff"/><stop offset="90.02%" stop-color="#00c9ff"/><stop offset="90.41%" stop-color="#009dff"/><stop offset="91.43%" stop-color="#009dff"/><stop offset="91.81%" stop-color="#0071ff"/><stop offset="92.87%" stop-color="#0071ff"/><stop offset="93.25%" stop-color="#0042ff"/><stop offset="94.34%" stop-color="#0042ff"/><stop offset="94.73%" stop-color="#0013ff"/><stop offset="95.86%" stop-color="#0013ff"/><stop offset="96.24%" stop-color="#0000e4"/><stop offset="97.41%" stop-color="#0000e4"/><stop offset="97.79%" stop-color="#0000b2"/><stop offset="99.00%" stop-color="#0000b2"/><stop offset="99.38%" stop-color="#000080"/><stop offset="100.00%" stop-color="#000080"/></linearGradient>
<linearGradient id="gb5" gradientUnits="userSpaceOnUse" x1="382.5" y1="0" x2="2215.0" y2="0"><stop offset="0.00%" stop-color="#e5ff1a"/><stop offset="0.79%" stop-color="#e5ff1a"/><stop offset="0.88%" stop-color="#f0ff0f"/><stop offset="0.95%" stop-color="#ffff00"/><stop offset="1.23%" stop-color="#ffe500"/><stop offset="1.32%" stop-color="#ffd300"/><stop offset="1.71%" stop-color="#ff5e00"/><stop offset="1.83%" stop-color="#ff4c00"/><stop offset="2.11%" stop-color="#ff3e00"/><stop offset="2.52%" stop-color="#ff2f00"/><stop offset="2.94%" stop-color="#ff2900"/><stop offset="2.97%" stop-color="#ff2900"/><stop offset="3.37%" stop-color="#ff3000"/><stop offset="3.82%" stop-color="#ff4500"/><stop offset="4.28%" stop-color="#ff6000"/><stop offset="4.75%" stop-color="#ff7900"/><stop offset="5.14%" stop-color="#ff8400"/><stop offset="5.27%" stop-color="#ff8500"/><stop offset="5.54%" stop-color="#ff8300"/><stop offset="5.96%" stop-color="#ff7900"/><stop offset="6.38%" stop-color="#ff6900"/><stop offset="6.81%" stop-color="#ff5600"/><stop offset="7.26%" stop-color="#ff4100"/><stop offset="7.72%" stop-color="#ff2f00"/><stop offset="8.19%" stop-color="#ff2200"/><stop offset="8.54%" stop-color="#ff1f00"/><stop offset="8.67%" stop-color="#ff1f00"/><stop offset="9.17%" stop-color="#ff2800"/><stop offset="9.55%" stop-color="#ff3600"/><stop offset="9.94%" stop-color="#ff4700"/><stop offset="10.34%" stop-color="#ff5c00"/><stop offset="10.75%" stop-color="#ff7100"/><stop offset="11.05%" stop-color="#ff8000"/><stop offset="11.17%" stop-color="#ff8600"/><stop offset="11.60%" stop-color="#ffa300"/><stop offset="12.04%" stop-color="#ffc400"/><stop offset="12.49%" stop-color="#ffdc00"/><stop offset="12.74%" stop-color="#ffe000"/><stop offset="12.95%" stop-color="#ffe000"/><stop offset="13.42%" stop-color="#ffda00"/><stop offset="13.90%" stop-color="#ffcf00"/><stop offset="14.40%" stop-color="#ffc200"/><stop offset="14.90%" stop-color="#ffb700"/><stop offset="15.14%" stop-color="#ffb300"/><stop offset="15.42%" stop-color="#ffae00"/><stop offset="15.96%" stop-color="#ffa500"/><stop offset="16.51%" stop-color="#ff9d00"/><stop offset="17.07%" stop-color="#ff9700"/><stop offset="17.45%" stop-color="#ff9400"/><stop offset="17.84%" stop-color="#ff9400"/><stop offset="18.24%" stop-color="#ff9700"/><stop offset="18.64%" stop-color="#ff9c00"/><stop offset="19.05%" stop-color="#ffa200"/><stop offset="19.47%" stop-color="#ffa900"/><stop offset="19.90%" stop-color="#ffb000"/><stop offset="20.05%" stop-color="#ffb300"/><stop offset="20.34%" stop-color="#ffb700"/><stop offset="20.78%" stop-color="#ffc000"/><stop offset="21.23%" stop-color="#ffca00"/><stop offset="21.69%" stop-color="#ffd400"/><stop offset="22.16%" stop-color="#ffdc00"/><stop offset="22.64%" stop-color="#ffe000"/><stop offset="22.78%" stop-color="#ffe000"/><stop offset="23.13%" stop-color="#ffdf00"/><stop offset="23.63%" stop-color="#ffdb00"/><stop offset="24.14%" stop-color="#ffd400"/><stop offset="24.66%" stop-color="#ffca00"/><stop offset="25.19%" stop-color="#ffbe00"/><stop offset="25.74%" stop-color="#ffb100"/><stop offset="26.29%" stop-color="#ffa500"/><stop offset="26.60%" stop-color="#ff9e00"/><stop offset="26.86%" stop-color="#ff9800"/><stop offset="27.44%" stop-color="#ff8a00"/><stop offset="28.03%" stop-color="#ff7900"/><stop offset="28.63%" stop-color="#ff6800"/><stop offset="29.25%" stop-color="#ff5800"/><stop offset="29.88%" stop-color="#ff4c00"/><stop offset="29.89%" stop-color="#ff4c00"/><stop offset="30.53%" stop-color="#ff4300"/><stop offset="31.20%" stop-color="#ff3a00"/><stop offset="31.87%" stop-color="#ff3300"/><stop offset="32.57%" stop-color="#ff2d00"/><stop offset="33.15%" stop-color="#ff2c00"/><stop offset="33.28%" stop-color="#ff2c00"/><stop offset="34.01%" stop-color="#ff3000"/><stop offset="34.76%" stop-color="#ff3800"/><stop offset="35.53%" stop-color="#ff4200"/><stop offset="35.92%" stop-color="#ff4700"/><stop offset="36.31%" stop-color="#ff4b00"/><stop offset="36.43%" stop-color="#ff4c00"/><stop offset="36.71%" stop-color="#ff5000"/><stop offset="37.12%" stop-color="#ff5400"/><stop offset="37.53%" stop-color="#ff5a00"/><stop offset="37.95%" stop-color="#ff6000"/><stop offset="38.37%" stop-color="#ff6600"/><stop offset="38.80%" stop-color="#ff6c00"/><stop offset="39.23%" stop-color="#ff7200"/><stop offset="39.67%" stop-color="#ff7800"/><stop offset="40.11%" stop-color="#ff7e00"/><stop offset="40.57%" stop-color="#ff8400"/><stop offset="41.02%" stop-color="#ff8900"/><stop offset="41.49%" stop-color="#ff8d00"/><stop offset="41.96%" stop-color="#ff9100"/><stop offset="42.44%" stop-color="#ff9300"/><stop offset="42.92%" stop-color="#ff9400"/><stop offset="43.49%" stop-color="#ff9400"/><stop offset="43.82%" stop-color="#ff9200"/><stop offset="43.99%" stop-color="#ff9200"/><stop offset="44.33%" stop-color="#ff9000"/><stop offset="44.50%" stop-color="#ff9000"/><stop offset="44.84%" stop-color="#ff8d00"/><stop offset="45.01%" stop-color="#ff8d00"/><stop offset="45.36%" stop-color="#ff8900"/><stop offset="45.53%" stop-color="#ff8900"/><stop offset="45.89%" stop-color="#ff8500"/><stop offset="46.06%" stop-color="#ff8500"/><stop offset="46.42%" stop-color="#ff8000"/><stop offset="46.60%" stop-color="#ff8000"/><stop offset="46.96%" stop-color="#ff7b00"/><stop offset="47.14%" stop-color="#ff7b00"/><stop offset="47.51%" stop-color="#ff7500"/><stop offset="47.70%" stop-color="#ff7500"/><stop offset="48.07%" stop-color="#ff7000"/><stop offset="48.26%" stop-color="#ff7000"/><stop offset="48.64%" stop-color="#ff6a00"/><stop offset="48.83%" stop-color="#ff6a00"/><stop offset="49.21%" stop-color="#ff6500"/><stop offset="49.41%" stop-color="#ff6500"/><stop offset="49.79%" stop-color="#ff5f00"/><stop offset="50.00%" stop-color="#ff5f00"/><stop offset="50.39%" stop-color="#ff5800"/><stop offset="50.60%" stop-color="#ff5800"/><stop offset="50.99%" stop-color="#ff5000"/><stop offset="51.21%" stop-color="#ff5000"/><stop offset="51.60%" stop-color="#ff4800"/><stop offset="51.83%" stop-color="#ff4800"/><stop offset="52.22%" stop-color="#ff4000"/><stop offset="52.46%" stop-color="#ff4000"/><stop offset="52.85%" stop-color="#ff3a00"/><stop offset="53.10%" stop-color="#ff3a00"/><stop offset="53.49%" stop-color="#ff3400"/><stop offset="53.76%" stop-color="#ff3400"/><stop offset="54.14%" stop-color="#ff3000"/><stop offset="54.42%" stop-color="#ff3000"/><stop offset="54.80%" stop-color="#ff2d00"/><stop offset="55.09%" stop-color="#ff2d00"/><stop offset="55.47%" stop-color="#ff2900"/><stop offset="55.77%" stop-color="#ff2900"/><stop offset="56.16%" stop-color="#ff2600"/><stop offset="56.47%" stop-color="#ff2600"/><stop offset="56.85%" stop-color="#ff2300"/><stop offset="57.18%" stop-color="#ff2300"/><stop offset="57.56%" stop-color="#ff2100"/><stop offset="57.90%" stop-color="#ff2100"/><stop offset="58.28%" stop-color="#ff1f00"/><stop offset="60.13%" stop-color="#ff1f00"/><stop offset="60.51%" stop-color="#ff2000"/><stop offset="60.91%" stop-color="#ff2000"/><stop offset="61.29%" stop-color="#ff2100"/><stop offset="61.69%" stop-color="#ff2100"/><stop offset="62.07%" stop-color="#ff2300"/><stop offset="62.49%" stop-color="#ff2300"/><stop offset="62.87%" stop-color="#ff2500"/><stop offset="63.31%" stop-color="#ff2500"/><stop offset="63.69%" stop-color="#ff2700"/><stop offset="64.14%" stop-color="#ff2700"/><stop offset="64.52%" stop-color="#ff2b00"/><stop offset="64.98%" stop-color="#ff2b00"/><stop offset="65.36%" stop-color="#ff2e00"/><stop offset="65.84%" stop-color="#ff2e00"/><stop offset="66.23%" stop-color="#ff3300"/><stop offset="66.72%" stop-color="#ff3300"/><stop offset="67.11%" stop-color="#ff3700"/><stop offset="67.62%" stop-color="#ff3700"/><stop offset="68.00%" stop-color="#ff3e00"/><stop offset="68.53%" stop-color="#ff3e00"/><stop offset="68.91%" stop-color="#ff4a00"/><stop offset="69.46%" stop-color="#ff4a00"/><stop offset="69.84%" stop-color="#ff5a00"/><stop offset="70.41%" stop-color="#ff5a00"/><stop offset="70.79%" stop-color="#ff6b00"/><stop offset="71.38%" stop-color="#ff6b00"/><stop offset="71.76%" stop-color="#ff7e00"/><stop offset="72.37%" stop-color="#ff7e00"/><stop offset="72.75%" stop-color="#ff9000"/><stop offset="73.38%" stop-color="#ff9000"/><stop offset="73.76%" stop-color="#ffa400"/><stop offset="74.41%" stop-color="#ffa400"/><stop offset="74.79%" stop-color="#ffba00"/><stop offset="75.46%" stop-color="#ffba00"/><stop offset="75.84%" stop-color="#ffd100"/><stop offset="76.53%" stop-color="#ffd100"/><stop offset="76.91%" stop-color="#ffe900"/><stop offset="77.62%" stop-color="#ffe900"/><stop offset="78.01%" stop-color="#fcff03"/><stop offset="78.74%" stop-color="#fcff03"/><stop offset="79.13%" stop-color="#e1ff1e"/><stop offset="79.89%" stop-color="#e1ff1e"/><stop offset="80.27%" stop-color="#c5ff3a"/><stop offset="81.06%" stop-color="#c5ff3a"/><stop offset="81.44%" stop-color="#a8ff57"/><stop offset="82.25%" stop-color="#a8ff57"/><stop offset="82.63%" stop-color="#88ff77"/><stop offset="83.47%" stop-color="#88ff77"/><stop offset="83.86%" stop-color="#65ff9a"/><stop offset="84.72%" stop-color="#65ff9a"/><stop offset="85.11%" stop-color="#3dffc2"/><stop offset="86.00%" stop-color="#3dffc2"/><stop offset="86.39%" stop-color="#14ffeb"/><stop offset="87.31%" stop-color="#14ffeb"/><stop offset="87.69%" stop-color="#00ebff"/><stop offset="88.65%" stop-color="#00ebff"/><stop offset="89.03%" stop-color="#00c1ff"/><stop offset="90.02%" stop-color="#00c1ff"/><stop offset="90.41%" stop-color="#0097ff"/><stop offset="91.43%" stop-color="#0097ff"/><stop offset="91.81%" stop-color="#006cff"/><stop offset="92.87%" stop-color="#006cff"/><stop offset="93.25%" stop-color="#0040ff"/><stop offset="94.34%" stop-color="#0040ff"/><stop offset="94.73%" stop-color="#0013ff"/><stop offset="95.86%" stop-color="#0013ff"/><stop offset="96.24%" stop-color="#0000e4"/><stop offset="97.41%" stop-color="#0000e4"/><stop offset="97.79%" stop-color="#0000b2"/><stop offset="99.00%" stop-color="#0000b2"/><stop offset="99.38%" stop-color="#000080"/><stop offset="100.00%" stop-color="#000080"/></linearGradient>
<linearGradient id="gb6" gradientUnits="userSpaceOnUse" x1="382.5" y1="0" x2="2215.0" y2="0"><stop offset="0.00%" stop-color="#f0ff0f"/><stop offset="0.79%" stop-color="#f0ff0f"/><stop offset="0.88%" stop-color="#f6ff09"/><stop offset="0.95%" stop-color="#ffff00"/><stop offset="1.23%" stop-color="#ffe500"/><stop offset="1.32%" stop-color="#ffd400"/><stop offset="1.71%" stop-color="#ff6e00"/><stop offset="1.83%" stop-color="#ff6100"/><stop offset="2.11%" stop-color="#ff5900"/><stop offset="2.52%" stop-color="#ff5200"/><stop offset="2.94%" stop-color="#ff4d00"/><stop offset="3.25%" stop-color="#ff4c00"/><stop offset="3.37%" stop-color="#ff4d00"/><stop offset="3.82%" stop-color="#ff5000"/><stop offset="4.28%" stop-color="#ff5700"/><stop offset="4.75%" stop-color="#ff5f00"/><stop offset="5.14%" stop-color="#ff6400"/><stop offset="5.54%" stop-color="#ff6600"/><stop offset="5.59%" stop-color="#ff6600"/><stop offset="5.96%" stop-color="#ff6400"/><stop offset="6.38%" stop-color="#ff5f00"/><stop offset="6.81%" stop-color="#ff5700"/><stop offset="7.26%" stop-color="#ff4f00"/><stop offset="7.72%" stop-color="#ff4700"/><stop offset="8.19%" stop-color="#ff4300"/><stop offset="8.38%" stop-color="#ff4200"/><stop offset="8.67%" stop-color="#ff4400"/><stop offset="9.17%" stop-color="#ff4e00"/><stop offset="9.55%" stop-color="#ff5b00"/><stop offset="9.94%" stop-color="#ff6a00"/><stop offset="10.34%" stop-color="#ff7b00"/><stop offset="10.75%" stop-color="#ff8b00"/><stop offset="11.00%" stop-color="#ff9400"/><stop offset="11.17%" stop-color="#ff9b00"/><stop offset="11.60%" stop-color="#ffaf00"/><stop offset="12.04%" stop-color="#ffc400"/><stop offset="12.49%" stop-color="#ffd400"/><stop offset="12.74%" stop-color="#ffd600"/><stop offset="12.95%" stop-color="#ffd600"/><stop offset="13.42%" stop-color="#ffd400"/><stop offset="13.90%" stop-color="#ffd100"/><stop offset="14.40%" stop-color="#ffcd00"/><stop offset="14.90%" stop-color="#ffc900"/><stop offset="15.14%" stop-color="#ffc700"/><stop offset="15.42%" stop-color="#ffc500"/><stop offset="15.96%" stop-color="#ffc100"/><stop offset="16.51%" stop-color="#ffbc00"/><stop offset="17.07%" stop-color="#ffb900"/><stop offset="17.45%" stop-color="#ffb800"/><stop offset="17.84%" stop-color="#ffb800"/><stop offset="18.24%" stop-color="#ffba00"/><stop offset="18.64%" stop-color="#ffbd00"/><stop offset="19.05%" stop-color="#ffc100"/><stop offset="19.47%" stop-color="#ffc600"/><stop offset="19.90%" stop-color="#ffcb00"/><stop offset="20.05%" stop-color="#ffcc00"/><stop offset="20.34%" stop-color="#ffcf00"/><stop offset="20.78%" stop-color="#ffd400"/><stop offset="21.23%" stop-color="#ffd900"/><stop offset="21.69%" stop-color="#ffde00"/><stop offset="22.16%" stop-color="#ffe000"/><stop offset="22.64%" stop-color="#ffe000"/><stop offset="23.13%" stop-color="#ffde00"/><stop offset="23.63%" stop-color="#ffd900"/><stop offset="24.14%" stop-color="#ffd400"/><stop offset="24.66%" stop-color="#ffcc00"/><stop offset="25.19%" stop-color="#ffc400"/><stop offset="25.74%" stop-color="#ffbb00"/><stop offset="26.29%" stop-color="#ffb200"/><stop offset="26.86%" stop-color="#ffaa00"/><stop offset="27.44%" stop-color="#ffa200"/><stop offset="27.75%" stop-color="#ff9e00"/><stop offset="28.03%" stop-color="#ff9b00"/><stop offset="28.63%" stop-color="#ff9400"/><stop offset="29.25%" stop-color="#ff8c00"/><stop offset="29.89%" stop-color="#ff8400"/><stop offset="30.53%" stop-color="#ff7d00"/><stop offset="31.20%" stop-color="#ff7600"/><stop offset="31.87%" stop-color="#ff6f00"/><stop offset="32.57%" stop-color="#ff6b00"/><stop offset="33.28%" stop-color="#ff6900"/><stop offset="34.01%" stop-color="#ff6900"/><stop offset="34.76%" stop-color="#ff6b00"/><stop offset="35.53%" stop-color="#ff6d00"/><stop offset="35.92%" stop-color="#ff6f00"/><stop offset="36.31%" stop-color="#ff7000"/><stop offset="36.71%" stop-color="#ff7200"/><stop offset="37.12%" stop-color="#ff7400"/><stop offset="37.53%" stop-color="#ff7600"/><stop offset="37.95%" stop-color="#ff7800"/><stop offset="38.37%" stop-color="#ff7a00"/><stop offset="38.80%" stop-color="#ff7c00"/><stop offset="39.23%" stop-color="#ff7f00"/><stop offset="39.67%" stop-color="#ff8100"/><stop offset="40.11%" stop-color="#ff8300"/><stop offset="40.57%" stop-color="#ff8500"/><stop offset="41.02%" stop-color="#ff8600"/><stop offset="41.49%" stop-color="#ff8800"/><stop offset="41.96%" stop-color="#ff8900"/><stop offset="42.44%" stop-color="#ff8900"/><stop offset="42.92%" stop-color="#ff8a00"/><stop offset="42.97%" stop-color="#ff8a00"/><stop offset="43.33%" stop-color="#ff8900"/><stop offset="43.49%" stop-color="#ff8900"/><stop offset="43.82%" stop-color="#ff8800"/><stop offset="43.99%" stop-color="#ff8800"/><stop offset="44.33%" stop-color="#ff8600"/><stop offset="44.50%" stop-color="#ff8600"/><stop offset="44.84%" stop-color="#ff8400"/><stop offset="45.01%" stop-color="#ff8400"/><stop offset="45.36%" stop-color="#ff8100"/><stop offset="45.53%" stop-color="#ff8100"/><stop offset="45.89%" stop-color="#ff7d00"/><stop offset="46.06%" stop-color="#ff7d00"/><stop offset="46.42%" stop-color="#ff7900"/><stop offset="46.60%" stop-color="#ff7900"/><stop offset="46.96%" stop-color="#ff7500"/><stop offset="47.14%" stop-color="#ff7500"/><stop offset="47.51%" stop-color="#ff7100"/><stop offset="47.70%" stop-color="#ff7100"/><stop offset="48.07%" stop-color="#ff6d00"/><stop offset="48.26%" stop-color="#ff6d00"/><stop offset="48.64%" stop-color="#ff6900"/><stop offset="48.83%" stop-color="#ff6900"/><stop offset="49.21%" stop-color="#ff6500"/><stop offset="49.41%" stop-color="#ff6500"/><stop offset="49.79%" stop-color="#ff6200"/><stop offset="50.00%" stop-color="#ff6200"/><stop offset="50.39%" stop-color="#ff5d00"/><stop offset="50.60%" stop-color="#ff5d00"/><stop offset="50.99%" stop-color="#ff5900"/><stop offset="51.21%" stop-color="#ff5900"/><stop offset="51.60%" stop-color="#ff5400"/><stop offset="51.83%" stop-color="#ff5400"/><stop offset="52.22%" stop-color="#ff4f00"/><stop offset="52.46%" stop-color="#ff4f00"/><stop offset="52.85%" stop-color="#ff4a00"/><stop offset="53.10%" stop-color="#ff4a00"/><stop offset="53.49%" stop-color="#ff4500"/><stop offset="53.76%" stop-color="#ff4500"/><stop offset="54.14%" stop-color="#ff4100"/><stop offset="54.42%" stop-color="#ff4100"/><stop offset="54.80%" stop-color="#ff3d00"/><stop offset="55.09%" stop-color="#ff3d00"/><stop offset="55.47%" stop-color="#ff3b00"/><stop offset="55.77%" stop-color="#ff3b00"/><stop offset="56.16%" stop-color="#ff3900"/><stop offset="56.47%" stop-color="#ff3900"/><stop offset="56.85%" stop-color="#ff3800"/><stop offset="57.18%" stop-color="#ff3800"/><stop offset="57.56%" stop-color="#ff3900"/><stop offset="57.90%" stop-color="#ff3900"/><stop offset="58.28%" stop-color="#ff3a00"/><stop offset="58.63%" stop-color="#ff3a00"/><stop offset="59.01%" stop-color="#ff3d00"/><stop offset="59.37%" stop-color="#ff3d00"/><stop offset="59.76%" stop-color="#ff4000"/><stop offset="60.13%" stop-color="#ff4000"/><stop offset="60.51%" stop-color="#ff4300"/><stop offset="60.91%" stop-color="#ff4300"/><stop offset="61.29%" stop-color="#ff4700"/><stop offset="61.69%" stop-color="#ff4700"/><stop offset="62.07%" stop-color="#ff4b00"/><stop offset="62.49%" stop-color="#ff4b00"/><stop offset="62.87%" stop-color="#ff5000"/><stop offset="63.31%" stop-color="#ff5000"/><stop offset="63.69%" stop-color="#ff5300"/><stop offset="64.14%" stop-color="#ff5300"/><stop offset="64.52%" stop-color="#ff5700"/><stop offset="64.98%" stop-color="#ff5700"/><stop offset="65.36%" stop-color="#ff5a00"/><stop offset="65.84%" stop-color="#ff5a00"/><stop offset="66.23%" stop-color="#ff5c00"/><stop offset="66.72%" stop-color="#ff5c00"/><stop offset="67.11%" stop-color="#ff6000"/><stop offset="67.62%" stop-color="#ff6000"/><stop offset="68.00%" stop-color="#ff6900"/><stop offset="68.53%" stop-color="#ff6900"/><stop offset="68.91%" stop-color="#ff7900"/><stop offset="69.46%" stop-color="#ff7900"/><stop offset="69.84%" stop-color="#ff8900"/><stop offset="70.41%" stop-color="#ff8900"/><stop offset="70.79%" stop-color="#ff9800"/><stop offset="71.38%" stop-color="#ff9800"/><stop offset="71.76%" stop-color="#ffa900"/><stop offset="72.37%" stop-color="#ffa900"/><stop offset="72.75%" stop-color="#ffbb00"/><stop offset="73.38%" stop-color="#ffbb00"/><stop offset="73.76%" stop-color="#ffcf00"/><stop offset="74.41%" stop-color="#ffcf00"/><stop offset="74.79%" stop-color="#ffe600"/><stop offset="75.46%" stop-color="#ffe600"/><stop offset="75.84%" stop-color="#fffe00"/><stop offset="76.53%" stop-color="#fffe00"/><stop offset="76.91%" stop-color="#e9ff16"/><stop offset="77.62%" stop-color="#e9ff16"/><stop offset="78.01%" stop-color="#d2ff2d"/><stop offset="78.74%" stop-color="#d2ff2d"/><stop offset="79.13%" stop-color="#bbff44"/><stop offset="79.89%" stop-color="#bbff44"/><stop offset="80.27%" stop-color="#a3ff5c"/><stop offset="81.06%" stop-color="#a3ff5c"/><stop offset="81.44%" stop-color="#89ff76"/><stop offset="82.25%" stop-color="#89ff76"/><stop offset="82.63%" stop-color="#6cff93"/><stop offset="83.47%" stop-color="#6cff93"/><stop offset="83.86%" stop-color="#4affb5"/><stop offset="84.72%" stop-color="#4affb5"/><stop offset="85.11%" stop-color="#26ffd9"/><stop offset="86.00%" stop-color="#26ffd9"/><stop offset="86.39%" stop-color="#01fffe"/><stop offset="87.31%" stop-color="#01fffe"/><stop offset="87.69%" stop-color="#00dcff"/><stop offset="88.65%" stop-color="#00dcff"/><stop offset="89.03%" stop-color="#00b7ff"/><stop offset="90.02%" stop-color="#00b7ff"/><stop offset="90.41%" stop-color="#0091ff"/><stop offset="91.43%" stop-color="#0091ff"/><stop offset="91.81%" stop-color="#0069ff"/><stop offset="92.87%" stop-color="#0069ff"/><stop offset="93.25%" stop-color="#003fff"/><stop offset="94.34%" stop-color="#003fff"/><stop offset="94.73%" stop-color="#0013ff"/><stop offset="95.86%" stop-color="#0013ff"/><stop offset="96.24%" stop-color="#0000e4"/><stop offset="97.41%" stop-color="#0000e4"/><stop offset="97.79%" stop-color="#0000b2"/><stop offset="99.00%" stop-color="#0000b2"/><stop offset="99.38%" stop-color="#000080"/><stop offset="100.00%" stop-color="#000080"/></linearGradient>
<linearGradient id="gb7" gradientUnits="userSpaceOnUse" x1="382.5" y1="0" x2="2215.0" y2="0"><stop offset="0.00%" stop-color="#faff05"/><stop offset="0.79%" stop-color="#faff05"/><stop offset="0.88%" stop-color="#fcff03"/><stop offset="0.95%" stop-color="#ffff00"/><stop offset="1.23%" stop-color="#ffe500"/><stop offset="1.32%" stop-color="#ffda00"/><stop offset="1.71%" stop-color="#ff9e00"/><stop offset="2.10%" stop-color="#ff7500"/><stop offset="2.11%" stop-color="#ff7500"/><stop offset="2.52%" stop-color="#ff6a00"/><stop offset="2.94%" stop-color="#ff6200"/><stop offset="3.37%" stop-color="#ff5d00"/><stop offset="3.74%" stop-color="#ff5c00"/><stop offset="5.14%" stop-color="#ff5c00"/><stop offset="5.54%" stop-color="#ff5d00"/><stop offset="6.38%" stop-color="#ff5d00"/><stop offset="6.81%" stop-color="#ff5e00"/><stop offset="7.26%" stop-color="#ff5f00"/><stop offset="7.72%" stop-color="#ff6000"/><stop offset="8.19%" stop-color="#ff6000"/><stop offset="8.38%" stop-color="#ff6100"/><stop offset="8.67%" stop-color="#ff6300"/><stop offset="9.17%" stop-color="#ff6900"/><stop offset="9.55%" stop-color="#ff7000"/><stop offset="9.94%" stop-color="#ff7900"/><stop offset="10.34%" stop-color="#ff8200"/><stop offset="10.72%" stop-color="#ff8a00"/><stop offset="10.75%" stop-color="#ff8a00"/><stop offset="11.17%" stop-color="#ff9500"/><stop offset="11.60%" stop-color="#ffa200"/><stop offset="12.04%" stop-color="#ffb000"/><stop offset="12.49%" stop-color="#ffbe00"/><stop offset="12.95%" stop-color="#ffca00"/><stop offset="13.42%" stop-color="#ffd300"/><stop offset="13.78%" stop-color="#ffd600"/><stop offset="13.90%" stop-color="#ffd700"/><stop offset="14.40%" stop-color="#ffd800"/><stop offset="14.90%" stop-color="#ffd900"/><stop offset="15.42%" stop-color="#ffda00"/><stop offset="15.96%" stop-color="#ffdb00"/><stop offset="16.51%" stop-color="#ffdc00"/><stop offset="17.07%" stop-color="#ffdd00"/><stop offset="17.45%" stop-color="#ffde00"/><stop offset="17.84%" stop-color="#ffde00"/><stop offset="18.24%" stop-color="#ffdf00"/><stop offset="19.05%" stop-color="#ffdf00"/><stop offset="19.47%" stop-color="#ffe000"/><stop offset="21.69%" stop-color="#ffe000"/><stop offset="22.16%" stop-color="#ffdf00"/><stop offset="22.64%" stop-color="#ffdd00"/><stop offset="23.13%" stop-color="#ffda00"/><stop offset="23.63%" stop-color="#ffd600"/><stop offset="24.14%" stop-color="#ffd100"/><stop offset="24.66%" stop-color="#ffcc00"/><stop offset="25.19%" stop-color="#ffc600"/><stop offset="25.74%" stop-color="#ffc100"/><stop offset="26.22%" stop-color="#ffbd00"/><stop offset="26.29%" stop-color="#ffbc00"/><stop offset="26.86%" stop-color="#ffb700"/><stop offset="27.44%" stop-color="#ffb000"/><stop offset="28.03%" stop-color="#ffa900"/><stop offset="28.63%" stop-color="#ffa200"/><stop offset="29.25%" stop-color="#ff9a00"/><stop offset="29.89%" stop-color="#ff9200"/><stop offset="30.53%" stop-color="#ff8a00"/><stop offset="31.20%" stop-color="#ff8400"/><stop offset="31.87%" stop-color="#ff7f00"/><stop offset="32.57%" stop-color="#ff7b00"/><stop offset="33.15%" stop-color="#ff7a00"/><stop offset="33.28%" stop-color="#ff7a00"/><stop offset="34.01%" stop-color="#ff7b00"/><stop offset="34.76%" stop-color="#ff7c00"/><stop offset="35.53%" stop-color="#ff7d00"/><stop offset="35.92%" stop-color="#ff7e00"/><stop offset="36.31%" stop-color="#ff7f00"/><stop offset="36.71%" stop-color="#ff8000"/><stop offset="37.12%" stop-color="#ff8200"/><stop offset="37.53%" stop-color="#ff8300"/><stop offset="37.95%" stop-color="#ff8400"/><stop offset="38.37%" stop-color="#ff8500"/><stop offset="38.80%" stop-color="#ff8600"/><stop offset="39.23%" stop-color="#ff8700"/><stop offset="39.67%" stop-color="#ff8800"/><stop offset="40.11%" stop-color="#ff8900"/><stop offset="40.57%" stop-color="#ff8900"/><stop offset="41.02%" stop-color="#ff8a00"/><stop offset="41.49%" stop-color="#ff8a00"/><stop offset="41.96%" stop-color="#ff8900"/><stop offset="42.44%" stop-color="#ff8900"/><stop offset="42.92%" stop-color="#ff8700"/><stop offset="43.33%" stop-color="#ff8600"/><stop offset="43.49%" stop-color="#ff8600"/><stop offset="43.82%" stop-color="#ff8300"/><stop offset="43.99%" stop-color="#ff8300"/><stop offset="44.33%" stop-color="#ff8100"/><stop offset="44.50%" stop-color="#ff8100"/><stop offset="44.84%" stop-color="#ff7e00"/><stop offset="45.01%" stop-color="#ff7e00"/><stop offset="45.36%" stop-color="#ff7b00"/><stop offset="45.53%" stop-color="#ff7b00"/><stop offset="45.89%" stop-color="#ff7800"/><stop offset="46.06%" stop-color="#ff7800"/><stop offset="46.42%" stop-color="#ff7500"/><stop offset="46.60%" stop-color="#ff7500"/><stop offset="46.96%" stop-color="#ff7200"/><stop offset="47.14%" stop-color="#ff7200"/><stop offset="47.51%" stop-color="#ff6e00"/><stop offset="47.70%" stop-color="#ff6e00"/><stop offset="48.07%" stop-color="#ff6b00"/><stop offset="48.26%" stop-color="#ff6b00"/><stop offset="48.64%" stop-color="#ff6800"/><stop offset="48.83%" stop-color="#ff6800"/><stop offset="49.21%" stop-color="#ff6500"/><stop offset="49.41%" stop-color="#ff6500"/><stop offset="49.79%" stop-color="#ff6300"/><stop offset="50.00%" stop-color="#ff6300"/><stop offset="50.39%" stop-color="#ff6000"/><stop offset="50.60%" stop-color="#ff6000"/><stop offset="50.99%" stop-color="#ff5c00"/><stop offset="51.21%" stop-color="#ff5c00"/><stop offset="51.60%" stop-color="#ff5900"/><stop offset="51.83%" stop-color="#ff5900"/><stop offset="52.22%" stop-color="#ff5600"/><stop offset="52.46%" stop-color="#ff5600"/><stop offset="52.85%" stop-color="#ff5300"/><stop offset="53.10%" stop-color="#ff5300"/><stop offset="53.49%" stop-color="#ff5000"/><stop offset="53.76%" stop-color="#ff5000"/><stop offset="54.14%" stop-color="#ff4e00"/><stop offset="54.42%" stop-color="#ff4e00"/><stop offset="54.80%" stop-color="#ff4d00"/><stop offset="56.47%" stop-color="#ff4d00"/><stop offset="56.85%" stop-color="#ff4e00"/><stop offset="57.18%" stop-color="#ff4e00"/><stop offset="57.56%" stop-color="#ff5000"/><stop offset="57.90%" stop-color="#ff5000"/><stop offset="58.28%" stop-color="#ff5200"/><stop offset="58.63%" stop-color="#ff5200"/><stop offset="59.01%" stop-color="#ff5500"/><stop offset="59.37%" stop-color="#ff5500"/><stop offset="59.76%" stop-color="#ff5800"/><stop offset="60.13%" stop-color="#ff5800"/><stop offset="60.51%" stop-color="#ff5b00"/><stop offset="60.91%" stop-color="#ff5b00"/><stop offset="61.29%" stop-color="#ff5f00"/><stop offset="61.69%" stop-color="#ff5f00"/><stop offset="62.07%" stop-color="#ff6200"/><stop offset="62.49%" stop-color="#ff6200"/><stop offset="62.87%" stop-color="#ff6600"/><stop offset="63.31%" stop-color="#ff6600"/><stop offset="63.69%" stop-color="#ff6a00"/><stop offset="64.14%" stop-color="#ff6a00"/><stop offset="64.52%" stop-color="#ff6e00"/><stop offset="64.98%" stop-color="#ff6e00"/><stop offset="65.36%" stop-color="#ff7200"/><stop offset="65.84%" stop-color="#ff7200"/><stop offset="66.23%" stop-color="#ff7800"/><stop offset="66.72%" stop-color="#ff7800"/><stop offset="67.11%" stop-color="#ff7e00"/><stop offset="67.62%" stop-color="#ff7e00"/><stop offset="68.00%" stop-color="#ff8700"/><stop offset="68.53%" stop-color="#ff8700"/><stop offset="68.91%" stop-color="#ff9200"/><stop offset="69.46%" stop-color="#ff9200"/><stop offset="69.84%" stop-color="#ffa000"/><stop offset="70.41%" stop-color="#ffa000"/><stop offset="70.79%" stop-color="#ffb000"/><stop offset="71.38%" stop-color="#ffb000"/><stop offset="71.76%" stop-color="#ffc100"/><stop offset="72.37%" stop-color="#ffc100"/><stop offset="72.75%" stop-color="#ffd500"/><stop offset="73.38%" stop-color="#ffd500"/><stop offset="73.76%" stop-color="#ffea00"/><stop offset="74.41%" stop-color="#ffea00"/><stop offset="74.79%" stop-color="#ffff00"/><stop offset="75.46%" stop-color="#ffff00"/><stop offset="75.84%" stop-color="#ebff14"/><stop offset="76.53%" stop-color="#ebff14"/><stop offset="76.91%" stop-color="#d6ff29"/><stop offset="77.62%" stop-color="#d6ff29"/><stop offset="78.01%" stop-color="#c1ff3e"/><stop offset="78.74%" stop-color="#c1ff3e"/><stop offset="79.13%" stop-color="#acff53"/><stop offset="79.89%" stop-color="#acff53"/><stop offset="80.27%" stop-color="#96ff69"/><stop offset="81.06%" stop-color="#96ff69"/><stop offset="81.44%" stop-color="#7eff81"/><stop offset="82.25%" stop-color="#7eff81"/><stop offset="82.63%" stop-color="#5effa1"/><stop offset="83.47%" stop-color="#5effa1"/><stop offset="83.86%" stop-color="#39ffc6"/><stop offset="84.72%" stop-color="#39ffc6"/><stop offset="85.11%" stop-color="#13ffec"/><stop offset="86.00%" stop-color="#13ffec"/><stop offset="86.39%" stop-color="#00efff"/><stop offset="87.31%" stop-color="#00efff"/><stop offset="87.69%" stop-color="#00cfff"/><stop offset="88.65%" stop-color="#00cfff"/><stop offset="89.03%" stop-color="#00aeff"/><stop offset="90.02%" stop-color="#00aeff"/><stop offset="90.41%" stop-color="#008bff"/><stop offset="91.43%" stop-color="#008bff"/><stop offset="91.81%" stop-color="#0066ff"/><stop offset="92.87%" stop-color="#0066ff"/><stop offset="93.25%" stop-color="#003dff"/><stop offset="94.34%" stop-color="#003dff"/><stop offset="94.73%" stop-color="#0012ff"/><stop offset="95.86%" stop-color="#0012ff"/><stop offset="96.24%" stop-color="#0000e4"/><stop offset="97.41%" stop-color="#0000e4"/><stop offset="97.79%" stop-color="#0000b2"/><stop offset="99.00%" stop-color="#0000b2"/><stop offset="99.38%" stop-color="#000080"/><stop offset="100.00%" stop-color="#000080"/></linearGradient>
<linearGradient id="gb8" gradientUnits="userSpaceOnUse" x1="382.5" y1="0" x2="2215.0" y2="0"><stop offset="0.00%" stop-color="#ffff00"/><stop offset="0.95%" stop-color="#ffff00"/><stop offset="1.23%" stop-color="#ffe500"/><stop offset="1.32%" stop-color="#ffda00"/><stop offset="1.71%" stop-color="#ffa300"/><stop offset="2.10%" stop-color="#ff8000"/><stop offset="2.11%" stop-color="#ff7f00"/><stop offset="2.52%" stop-color="#ff7700"/><stop offset="2.94%" stop-color="#ff7100"/><stop offset="3.37%" stop-color="#ff6b00"/><stop offset="3.82%" stop-color="#ff6700"/><stop offset="4.28%" stop-color="#ff6300"/><stop offset="4.75%" stop-color="#ff6200"/><stop offset="5.14%" stop-color="#ff6100"/><stop offset="5.54%" stop-color="#ff6100"/><stop offset="5.96%" stop-color="#ff6200"/><stop offset="6.38%" stop-color="#ff6500"/><stop offset="6.81%" stop-color="#ff6800"/><stop offset="7.26%" stop-color="#ff6b00"/><stop offset="7.72%" stop-color="#ff7000"/><stop offset="8.19%" stop-color="#ff7500"/><stop offset="8.67%" stop-color="#ff7b00"/><stop offset="9.17%" stop-color="#ff8100"/><stop offset="9.55%" stop-color="#ff8600"/><stop offset="9.90%" stop-color="#ff8a00"/><stop offset="9.94%" stop-color="#ff8a00"/><stop offset="10.34%" stop-color="#ff8f00"/><stop offset="10.75%" stop-color="#ff9600"/><stop offset="11.17%" stop-color="#ff9d00"/><stop offset="11.60%" stop-color="#ffa400"/><stop offset="12.04%" stop-color="#ffac00"/><stop offset="12.49%" stop-color="#ffb400"/><stop offset="12.95%" stop-color="#ffbc00"/><stop offset="13.42%" stop-color="#ffc300"/><stop offset="13.78%" stop-color="#ffc700"/><stop offset="13.90%" stop-color="#ffc800"/><stop offset="14.40%" stop-color="#ffcd00"/><stop offset="14.90%" stop-color="#ffd300"/><stop offset="15.42%" stop-color="#ffd800"/><stop offset="15.96%" stop-color="#ffdd00"/><stop offset="16.51%" stop-color="#ffe200"/><stop offset="17.07%" stop-color="#ffe600"/><stop offset="17.45%" stop-color="#ffe800"/><stop offset="17.84%" stop-color="#ffea00"/><stop offset="18.24%" stop-color="#ffea00"/><stop offset="18.47%" stop-color="#ffeb00"/><stop offset="18.64%" stop-color="#ffeb00"/><stop offset="19.05%" stop-color="#ffea00"/><stop offset="19.47%" stop-color="#ffe900"/><stop offset="19.90%" stop-color="#ffe700"/><stop offset="20.34%" stop-color="#ffe500"/><stop offset="20.78%" stop-color="#ffe300"/><stop offset="21.23%" stop-color="#ffe000"/><stop offset="21.69%" stop-color="#ffdc00"/><stop offset="22.16%" stop-color="#ffd900"/><stop offset="22.64%" stop-color="#ffd500"/><stop offset="23.13%" stop-color="#ffd200"/><stop offset="23.63%" stop-color="#ffce00"/><stop offset="24.14%" stop-color="#ffca00"/><stop offset="24.64%" stop-color="#ffc700"/><stop offset="24.66%" stop-color="#ffc700"/><stop offset="25.19%" stop-color="#ffc300"/><stop offset="25.74%" stop-color="#ffc000"/><stop offset="26.29%" stop-color="#ffbc00"/><stop offset="26.86%" stop-color="#ffb700"/><stop offset="27.44%" stop-color="#ffb300"/><stop offset="28.03%" stop-color="#ffae00"/><stop offset="28.63%" stop-color="#ffaa00"/><stop offset="29.25%" stop-color="#ffa500"/><stop offset="29.89%" stop-color="#ffa100"/><stop offset="30.53%" stop-color="#ff9d00"/><stop offset="31.20%" stop-color="#ff9900"/><stop offset="31.87%" stop-color="#ff9600"/><stop offset="32.39%" stop-color="#ff9400"/><stop offset="32.57%" stop-color="#ff9300"/><stop offset="33.28%" stop-color="#ff9100"/><stop offset="34.01%" stop-color="#ff8f00"/><stop offset="34.76%" stop-color="#ff8d00"/><stop offset="35.53%" stop-color="#ff8c00"/><stop offset="35.92%" stop-color="#ff8b00"/><stop offset="36.31%" stop-color="#ff8a00"/><stop offset="36.71%" stop-color="#ff8900"/><stop offset="37.12%" stop-color="#ff8900"/><stop offset="37.53%" stop-color="#ff8800"/><stop offset="37.95%" stop-color="#ff8700"/><stop offset="38.37%" stop-color="#ff8600"/><stop offset="38.80%" stop-color="#ff8500"/><stop offset="39.23%" stop-color="#ff8500"/><stop offset="39.67%" stop-color="#ff8400"/><stop offset="40.11%" stop-color="#ff8300"/><stop offset="40.57%" stop-color="#ff8200"/><stop offset="41.02%" stop-color="#ff8100"/><stop offset="41.45%" stop-color="#ff8000"/><stop offset="41.49%" stop-color="#ff7f00"/><stop offset="41.96%" stop-color="#ff7e00"/><stop offset="42.44%" stop-color="#ff7d00"/><stop offset="42.92%" stop-color="#ff7b00"/><stop offset="43.33%" stop-color="#ff7900"/><stop offset="43.49%" stop-color="#ff7900"/><stop offset="43.82%" stop-color="#ff7800"/><stop offset="43.99%" stop-color="#ff7800"/><stop offset="44.33%" stop-color="#ff7600"/><stop offset="44.50%" stop-color="#ff7600"/><stop offset="44.84%" stop-color="#ff7400"/><stop offset="45.01%" stop-color="#ff7400"/><stop offset="45.36%" stop-color="#ff7200"/><stop offset="45.53%" stop-color="#ff7200"/><stop offset="45.89%" stop-color="#ff7000"/><stop offset="46.06%" stop-color="#ff7000"/><stop offset="46.42%" stop-color="#ff6e00"/><stop offset="46.60%" stop-color="#ff6e00"/><stop offset="46.96%" stop-color="#ff6d00"/><stop offset="47.14%" stop-color="#ff6d00"/><stop offset="47.51%" stop-color="#ff6b00"/><stop offset="47.70%" stop-color="#ff6b00"/><stop offset="48.07%" stop-color="#ff6900"/><stop offset="48.26%" stop-color="#ff6900"/><stop offset="48.64%" stop-color="#ff6800"/><stop offset="48.83%" stop-color="#ff6800"/><stop offset="49.21%" stop-color="#ff6600"/><stop offset="49.41%" stop-color="#ff6600"/><stop offset="49.79%" stop-color="#ff6400"/><stop offset="50.00%" stop-color="#ff6400"/><stop offset="50.39%" stop-color="#ff6200"/><stop offset="50.60%" stop-color="#ff6200"/><stop offset="50.99%" stop-color="#ff6000"/><stop offset="51.21%" stop-color="#ff6000"/><stop offset="51.60%" stop-color="#ff5f00"/><stop offset="51.83%" stop-color="#ff5f00"/><stop offset="52.22%" stop-color="#ff5d00"/><stop offset="52.46%" stop-color="#ff5d00"/><stop offset="52.85%" stop-color="#ff5c00"/><stop offset="54.42%" stop-color="#ff5c00"/><stop offset="54.80%" stop-color="#ff5d00"/><stop offset="55.09%" stop-color="#ff5d00"/><stop offset="55.47%" stop-color="#ff5e00"/><stop offset="55.77%" stop-color="#ff5e00"/><stop offset="56.16%" stop-color="#ff5f00"/><stop offset="56.47%" stop-color="#ff5f00"/><stop offset="56.85%" stop-color="#ff6100"/><stop offset="57.18%" stop-color="#ff6100"/><stop offset="57.56%" stop-color="#ff6300"/><stop offset="57.90%" stop-color="#ff6300"/><stop offset="58.28%" stop-color="#ff6600"/><stop offset="58.63%" stop-color="#ff6600"/><stop offset="59.01%" stop-color="#ff6800"/><stop offset="59.37%" stop-color="#ff6800"/><stop offset="59.76%" stop-color="#ff6b00"/><stop offset="60.13%" stop-color="#ff6b00"/><stop offset="60.51%" stop-color="#ff6e00"/><stop offset="60.91%" stop-color="#ff6e00"/><stop offset="61.29%" stop-color="#ff7300"/><stop offset="61.69%" stop-color="#ff7300"/><stop offset="62.07%" stop-color="#ff7800"/><stop offset="62.49%" stop-color="#ff7800"/><stop offset="62.87%" stop-color="#ff7e00"/><stop offset="63.31%" stop-color="#ff7e00"/><stop offset="63.69%" stop-color="#ff8400"/><stop offset="64.14%" stop-color="#ff8400"/><stop offset="64.52%" stop-color="#ff8a00"/><stop offset="64.98%" stop-color="#ff8a00"/><stop offset="65.36%" stop-color="#ff9000"/><stop offset="65.84%" stop-color="#ff9000"/><stop offset="66.23%" stop-color="#ff9600"/><stop offset="66.72%" stop-color="#ff9600"/><stop offset="67.11%" stop-color="#ff9d00"/><stop offset="67.62%" stop-color="#ff9d00"/><stop offset="68.00%" stop-color="#ffa400"/><stop offset="68.53%" stop-color="#ffa400"/><stop offset="68.91%" stop-color="#ffad00"/><stop offset="69.46%" stop-color="#ffad00"/><stop offset="69.84%" stop-color="#ffb700"/><stop offset="70.41%" stop-color="#ffb700"/><stop offset="70.79%" stop-color="#ffc300"/><stop offset="71.38%" stop-color="#ffc300"/><stop offset="71.76%" stop-color="#ffd200"/><stop offset="72.37%" stop-color="#ffd200"/><stop offset="72.75%" stop-color="#ffe700"/><stop offset="73.38%" stop-color="#ffe700"/><stop offset="73.76%" stop-color="#fffd00"/><stop offset="74.41%" stop-color="#fffd00"/><stop offset="74.79%" stop-color="#edff12"/><stop offset="75.46%" stop-color="#edff12"/><stop offset="75.84%" stop-color="#daff25"/><stop offset="76.53%" stop-color="#daff25"/><stop offset="76.91%" stop-color="#c7ff38"/><stop offset="77.62%" stop-color="#c7ff38"/><stop offset="78.01%" stop-color="#b3ff4c"/><stop offset="78.74%" stop-color="#b3ff4c"/><stop offset="79.13%" stop-color="#9fff60"/><stop offset="79.89%" stop-color="#9fff60"/><stop offset="80.27%" stop-color="#8aff75"/><stop offset="81.06%" stop-color="#8aff75"/><stop offset="81.44%" stop-color="#70ff8f"/><stop offset="82.25%" stop-color="#70ff8f"/><stop offset="82.63%" stop-color="#4fffb0"/><stop offset="83.47%" stop-color="#4fffb0"/><stop offset="83.86%" stop-color="#2bffd4"/><stop offset="84.72%" stop-color="#2bffd4"/><stop offset="85.11%" stop-color="#07fff8"/><stop offset="86.00%" stop-color="#07fff8"/><stop offset="86.39%" stop-color="#00e5ff"/><stop offset="87.31%" stop-color="#00e5ff"/><stop offset="87.69%" stop-color="#00c5ff"/><stop offset="88.65%" stop-color="#00c5ff"/><stop offset="89.03%" stop-color="#00a5ff"/><stop offset="90.02%" stop-color="#00a5ff"/><stop offset="90.41%" stop-color="#0083ff"/><stop offset="91.43%" stop-color="#0083ff"/><stop offset="91.81%" stop-color="#005fff"/><stop offset="92.87%" stop-color="#005fff"/><stop offset="93.25%" stop-color="#003aff"/><stop offset="94.34%" stop-color="#003aff"/><stop offset="94.73%" stop-color="#0011ff"/><stop offset="95.86%" stop-color="#0011ff"/><stop offset="96.24%" stop-color="#0000e5"/><stop offset="97.41%" stop-color="#0000e5"/><stop offset="97.79%" stop-color="#0000b2"/><stop offset="99.00%" stop-color="#0000b2"/><stop offset="99.38%" stop-color="#000080"/><stop offset="100.00%" stop-color="#000080"/></linearGradient>
<linearGradient id="gb9" gradientUnits="userSpaceOnUse" x1="382.5" y1="0" x2="2215.0" y2="0"><stop offset="0.00%" stop-color="#ffff00"/><stop offset="0.95%" stop-color="#ffff00"/><stop offset="1.23%" stop-color="#ffe500"/><stop offset="1.32%" stop-color="#ffdb00"/><stop offset="1.71%" stop-color="#ffaa00"/><stop offset="2.10%" stop-color="#ff8a00"/><stop offset="2.11%" stop-color="#ff8a00"/><stop offset="2.52%" stop-color="#ff7e00"/><stop offset="2.94%" stop-color="#ff7500"/><stop offset="3.37%" stop-color="#ff6e00"/><stop offset="3.82%" stop-color="#ff6900"/><stop offset="4.28%" stop-color="#ff6600"/><stop offset="4.75%" stop-color="#ff6600"/><stop offset="5.14%" stop-color="#ff6700"/><stop offset="5.54%" stop-color="#ff6900"/><stop offset="5.96%" stop-color="#ff6b00"/><stop offset="6.38%" stop-color="#ff6e00"/><stop offset="6.81%" stop-color="#ff7200"/><stop offset="7.26%" stop-color="#ff7600"/><stop offset="7.72%" stop-color="#ff7b00"/><stop offset="8.19%" stop-color="#ff8000"/><stop offset="8.67%" stop-color="#ff8600"/><stop offset="9.17%" stop-color="#ff8b00"/><stop offset="9.55%" stop-color="#ff9000"/><stop offset="9.90%" stop-color="#ff9400"/><stop offset="9.94%" stop-color="#ff9400"/><stop offset="10.34%" stop-color="#ff9900"/><stop offset="10.75%" stop-color="#ffa000"/><stop offset="11.17%" stop-color="#ffa600"/><stop offset="11.60%" stop-color="#ffae00"/><stop offset="12.04%" stop-color="#ffb600"/><stop offset="12.49%" stop-color="#ffbe00"/><stop offset="12.95%" stop-color="#ffc500"/><stop offset="13.42%" stop-color="#ffcd00"/><stop offset="13.78%" stop-color="#ffd100"/><stop offset="13.90%" stop-color="#ffd300"/><stop offset="14.40%" stop-color="#ffd900"/><stop offset="14.90%" stop-color="#ffdf00"/><stop offset="15.42%" stop-color="#ffe500"/><stop offset="15.96%" stop-color="#ffeb00"/><stop offset="16.51%" stop-color="#fff000"/><stop offset="17.07%" stop-color="#fff300"/><stop offset="17.45%" stop-color="#fff500"/><stop offset="17.84%" stop-color="#fff500"/><stop offset="18.24%" stop-color="#fff400"/><stop offset="18.64%" stop-color="#fff300"/><stop offset="19.05%" stop-color="#fff100"/><stop offset="19.47%" stop-color="#ffef00"/><stop offset="19.90%" stop-color="#ffed00"/><stop offset="20.34%" stop-color="#ffea00"/><stop offset="20.78%" stop-color="#ffe700"/><stop offset="21.23%" stop-color="#ffe300"/><stop offset="21.69%" stop-color="#ffdf00"/><stop offset="22.16%" stop-color="#ffdb00"/><stop offset="22.64%" stop-color="#ffd700"/><stop offset="23.13%" stop-color="#ffd200"/><stop offset="23.63%" stop-color="#ffce00"/><stop offset="24.14%" stop-color="#ffca00"/><stop offset="24.64%" stop-color="#ffc700"/><stop offset="24.66%" stop-color="#ffc700"/><stop offset="25.19%" stop-color="#ffc300"/><stop offset="25.74%" stop-color="#ffbf00"/><stop offset="26.29%" stop-color="#ffbb00"/><stop offset="26.86%" stop-color="#ffb700"/><stop offset="27.44%" stop-color="#ffb200"/><stop offset="28.03%" stop-color="#ffad00"/><stop offset="28.63%" stop-color="#ffa900"/><stop offset="29.25%" stop-color="#ffa400"/><stop offset="29.89%" stop-color="#ffa000"/><stop offset="30.53%" stop-color="#ff9c00"/><stop offset="31.20%" stop-color="#ff9800"/><stop offset="31.87%" stop-color="#ff9600"/><stop offset="32.39%" stop-color="#ff9400"/><stop offset="32.57%" stop-color="#ff9300"/><stop offset="33.28%" stop-color="#ff9200"/><stop offset="34.01%" stop-color="#ff9000"/><stop offset="34.76%" stop-color="#ff8f00"/><stop offset="35.53%" stop-color="#ff8d00"/><stop offset="35.92%" stop-color="#ff8d00"/><stop offset="36.31%" stop-color="#ff8c00"/><stop offset="36.71%" stop-color="#ff8c00"/><stop offset="37.12%" stop-color="#ff8b00"/><stop offset="37.53%" stop-color="#ff8b00"/><stop offset="37.95%" stop-color="#ff8a00"/><stop offset="38.37%" stop-color="#ff8a00"/><stop offset="38.80%" stop-color="#ff8900"/><stop offset="39.23%" stop-color="#ff8800"/><stop offset="39.67%" stop-color="#ff8800"/><stop offset="40.11%" stop-color="#ff8700"/><stop offset="40.57%" stop-color="#ff8600"/><stop offset="41.02%" stop-color="#ff8500"/><stop offset="41.49%" stop-color="#ff8500"/><stop offset="41.96%" stop-color="#ff8300"/><stop offset="42.44%" stop-color="#ff8200"/><stop offset="42.92%" stop-color="#ff8100"/><stop offset="43.33%" stop-color="#ff7f00"/><stop offset="43.49%" stop-color="#ff7f00"/><stop offset="43.82%" stop-color="#ff7e00"/><stop offset="43.99%" stop-color="#ff7e00"/><stop offset="44.33%" stop-color="#ff7c00"/><stop offset="44.50%" stop-color="#ff7c00"/><stop offset="44.84%" stop-color="#ff7a00"/><stop offset="45.01%" stop-color="#ff7a00"/><stop offset="45.36%" stop-color="#ff7800"/><stop offset="45.53%" stop-color="#ff7800"/><stop offset="45.89%" stop-color="#ff7600"/><stop offset="46.06%" stop-color="#ff7600"/><stop offset="46.42%" stop-color="#ff7400"/><stop offset="46.60%" stop-color="#ff7400"/><stop offset="46.96%" stop-color="#ff7200"/><stop offset="47.14%" stop-color="#ff7200"/><stop offset="47.51%" stop-color="#ff7000"/><stop offset="47.70%" stop-color="#ff7000"/><stop offset="48.07%" stop-color="#ff6e00"/><stop offset="48.26%" stop-color="#ff6e00"/><stop offset="48.64%" stop-color="#ff6b00"/><stop offset="48.83%" stop-color="#ff6b00"/><stop offset="49.21%" stop-color="#ff6900"/><stop offset="49.41%" stop-color="#ff6900"/><stop offset="49.79%" stop-color="#ff6800"/><stop offset="50.00%" stop-color="#ff6800"/><stop offset="50.39%" stop-color="#ff6600"/><stop offset="50.60%" stop-color="#ff6600"/><stop offset="50.99%" stop-color="#ff6400"/><stop offset="51.21%" stop-color="#ff6400"/><stop offset="51.60%" stop-color="#ff6300"/><stop offset="51.83%" stop-color="#ff6300"/><stop offset="52.22%" stop-color="#ff6200"/><stop offset="52.46%" stop-color="#ff6200"/><stop offset="52.85%" stop-color="#ff6100"/><stop offset="54.42%" stop-color="#ff6100"/><stop offset="54.80%" stop-color="#ff6200"/><stop offset="55.09%" stop-color="#ff6200"/><stop offset="55.47%" stop-color="#ff6300"/><stop offset="55.77%" stop-color="#ff6300"/><stop offset="56.16%" stop-color="#ff6500"/><stop offset="56.47%" stop-color="#ff6500"/><stop offset="56.85%" stop-color="#ff6700"/><stop offset="57.18%" stop-color="#ff6700"/><stop offset="57.56%" stop-color="#ff6900"/><stop offset="57.90%" stop-color="#ff6900"/><stop offset="58.28%" stop-color="#ff6c00"/><stop offset="58.63%" stop-color="#ff6c00"/><stop offset="59.01%" stop-color="#ff7000"/><stop offset="59.37%" stop-color="#ff7000"/><stop offset="59.76%" stop-color="#ff7400"/><stop offset="60.13%" stop-color="#ff7400"/><stop offset="60.51%" stop-color="#ff7800"/><stop offset="60.91%" stop-color="#ff7800"/><stop offset="61.29%" stop-color="#ff7c00"/><stop offset="61.69%" stop-color="#ff7c00"/><stop offset="62.07%" stop-color="#ff8100"/><stop offset="62.49%" stop-color="#ff8100"/><stop offset="62.87%" stop-color="#ff8600"/><stop offset="63.31%" stop-color="#ff8600"/><stop offset="63.69%" stop-color="#ff8a00"/><stop offset="64.14%" stop-color="#ff8a00"/><stop offset="64.52%" stop-color="#ff8f00"/><stop offset="64.98%" stop-color="#ff8f00"/><stop offset="65.36%" stop-color="#ff9400"/><stop offset="65.84%" stop-color="#ff9400"/><stop offset="66.23%" stop-color="#ff9b00"/><stop offset="66.72%" stop-color="#ff9b00"/><stop offset="67.11%" stop-color="#ffa200"/><stop offset="67.62%" stop-color="#ffa200"/><stop offset="68.00%" stop-color="#ffaa00"/><stop offset="68.53%" stop-color="#ffaa00"/><stop offset="68.91%" stop-color="#ffb200"/><stop offset="69.46%" stop-color="#ffb200"/><stop offset="69.84%" stop-color="#ffbc00"/><stop offset="70.41%" stop-color="#ffbc00"/><stop offset="70.79%" stop-color="#ffc800"/><stop offset="71.38%" stop-color="#ffc800"/><stop offset="71.76%" stop-color="#ffd700"/><stop offset="72.37%" stop-color="#ffd700"/><stop offset="72.75%" stop-color="#ffea00"/><stop offset="73.38%" stop-color="#ffea00"/><stop offset="73.76%" stop-color="#ffff00"/><stop offset="74.41%" stop-color="#ffff00"/><stop offset="74.79%" stop-color="#ebff14"/><stop offset="75.46%" stop-color="#ebff14"/><stop offset="75.84%" stop-color="#d7ff28"/><stop offset="76.53%" stop-color="#d7ff28"/><stop offset="76.91%" stop-color="#c3ff3c"/><stop offset="77.62%" stop-color="#c3ff3c"/><stop offset="78.01%" stop-color="#afff50"/><stop offset="78.74%" stop-color="#afff50"/><stop offset="79.13%" stop-color="#9cff63"/><stop offset="79.89%" stop-color="#9cff63"/><stop offset="80.27%" stop-color="#88ff77"/><stop offset="81.06%" stop-color="#88ff77"/><stop offset="81.44%" stop-color="#6dff92"/><stop offset="82.25%" stop-color="#6dff92"/><stop offset="82.63%" stop-color="#4cffb3"/><stop offset="83.47%" stop-color="#4cffb3"/><stop offset="83.86%" stop-color="#27ffd8"/><stop offset="84.72%" stop-color="#27ffd8"/><stop offset="85.11%" stop-color="#04fffb"/><stop offset="86.00%" stop-color="#04fffb"/><stop offset="86.39%" stop-color="#00e2ff"/><stop offset="87.31%" stop-color="#00e2ff"/><stop offset="87.69%" stop-color="#00c3ff"/><stop offset="88.65%" stop-color="#00c3ff"/><stop offset="89.03%" stop-color="#00a3ff"/><stop offset="90.02%" stop-color="#00a3ff"/><stop offset="90.41%" stop-color="#0081ff"/><stop offset="91.43%" stop-color="#0081ff"/><stop offset="91.81%" stop-color="#005eff"/><stop offset="92.87%" stop-color="#005eff"/><stop offset="93.25%" stop-color="#0039ff"/><stop offset="94.34%" stop-color="#0039ff"/><stop offset="94.73%" stop-color="#0011ff"/><stop offset="95.86%" stop-color="#0011ff"/><stop offset="96.24%" stop-color="#0000e5"/><stop offset="97.41%" stop-color="#0000e5"/><stop offset="97.79%" stop-color="#0000b2"/><stop offset="99.00%" stop-color="#0000b2"/><stop offset="99.38%" stop-color="#000080"/><stop offset="100.00%" stop-color="#000080"/></linearGradient>
<clipPath id="cb"><rect x="382.5" y="1024.0" width="1832.5" height="731.5999999999999"/></clipPath>
<filter id="vb" x="-5%" y="-5%" width="110%" height="110%" color-interpolation-filters="sRGB"><feGaussianBlur stdDeviation="0 4"/></filter>
<filter id="soft" x="-5%" y="-5%" width="110%" height="110%" color-interpolation-filters="sRGB"><feGaussianBlur stdDeviation="1.5"/></filter>
<filter id="tb" x="-10%" y="-10%" width="120%" height="120%" color-interpolation-filters="sRGB"><feGaussianBlur stdDeviation="1.8"/></filter>
<linearGradient id="gs" gradientUnits="userSpaceOnUse" x1="0" y1="1024.0" x2="0" y2="1755.6"><stop offset="0.00%" stop-color="#52ffad"/><stop offset="6.83%" stop-color="#80ff80"/><stop offset="15.17%" stop-color="#b3ff4c"/><stop offset="28.16%" stop-color="#d6ff29"/><stop offset="41.83%" stop-color="#e5ff1a"/><stop offset="58.23%" stop-color="#f5ff0a"/><stop offset="78.73%" stop-color="#ffff00"/><stop offset="99.92%" stop-color="#fff500"/></linearGradient>
<linearGradient id="gsh" gradientUnits="userSpaceOnUse" x1="383.0" y1="0" x2="404.0" y2="0"><stop offset="0" stop-color="#fff"/><stop offset="0.714" stop-color="#fff"/><stop offset="1" stop-color="#000"/></linearGradient>
<mask id="ms" maskUnits="userSpaceOnUse" x="383.0" y="1024.0" width="21.0" height="731.5999999999999"><rect x="383.0" y="1024.0" width="21.0" height="731.5999999999999" fill="url(#gsh)"/></mask>
<linearGradient id="gc" x1="0" y1="0" x2="0" y2="1"><stop offset="0.63%" stop-color="#800000"/><stop offset="3.13%" stop-color="#990000"/><stop offset="5.63%" stop-color="#b30000"/><stop offset="8.13%" stop-color="#cc0000"/><stop offset="10.63%" stop-color="#e50000"/><stop offset="13.13%" stop-color="#ff0000"/><stop offset="15.63%" stop-color="#ff1a00"/><stop offset="18.13%" stop-color="#ff3300"/><stop offset="20.63%" stop-color="#ff4c00"/><stop offset="23.13%" stop-color="#ff6600"/><stop offset="25.63%" stop-color="#ff8000"/><stop offset="28.13%" stop-color="#ff9900"/><stop offset="30.63%" stop-color="#ffb300"/><stop offset="33.13%" stop-color="#ffcc00"/><stop offset="35.63%" stop-color="#ffe500"/><stop offset="38.13%" stop-color="#ffff00"/><stop offset="40.63%" stop-color="#e5ff1a"/><stop offset="43.13%" stop-color="#ccff33"/><stop offset="45.63%" stop-color="#b3ff4c"/><stop offset="48.13%" stop-color="#99ff66"/><stop offset="50.63%" stop-color="#80ff80"/><stop offset="53.13%" stop-color="#66ff99"/><stop offset="55.63%" stop-color="#4cffb3"/><stop offset="58.13%" stop-color="#33ffcc"/><stop offset="60.63%" stop-color="#1affe5"/><stop offset="63.13%" stop-color="#00ffff"/><stop offset="65.63%" stop-color="#00e5ff"/><stop offset="68.13%" stop-color="#00ccff"/><stop offset="70.63%" stop-color="#00b3ff"/><stop offset="73.13%" stop-color="#0099ff"/><stop offset="75.63%" stop-color="#0080ff"/><stop offset="78.13%" stop-color="#0066ff"/><stop offset="80.63%" stop-color="#004cff"/><stop offset="83.13%" stop-color="#0033ff"/><stop offset="85.63%" stop-color="#001aff"/><stop offset="88.13%" stop-color="#0000ff"/><stop offset="90.63%" stop-color="#0000e5"/><stop offset="93.13%" stop-color="#0000cc"/><stop offset="95.63%" stop-color="#0000b3"/><stop offset="98.13%" stop-color="#000099"/><stop offset="100.00%" stop-color="#000080"/></linearGradient>
</defs>
<rect width="2466" height="1899" fill="#fff"/>
<g filter="url(#soft)"><rect x="382.5" y="112.0" width="1832.5" height="729.1" fill="url(#ga)"/></g>
<g filter="url(#soft)"><g clip-path="url(#cb)"><g filter="url(#vb)"><rect x="362.5" y="994.0" width="1872.5" height="71.0" fill="url(#gb0)"/><rect x="362.5" y="1065.0" width="1872.5" height="81.0" fill="url(#gb1)"/><rect x="362.5" y="1146.0" width="1872.5" height="81.0" fill="url(#gb2)"/><rect x="362.5" y="1227.0" width="1872.5" height="81.0" fill="url(#gb3)"/><rect x="362.5" y="1308.0" width="1872.5" height="82.0" fill="url(#gb4)"/><rect x="362.5" y="1390.0" width="1872.5" height="81.0" fill="url(#gb5)"/><rect x="362.5" y="1471.0" width="1872.5" height="81.0" fill="url(#gb6)"/><rect x="362.5" y="1552.0" width="1872.5" height="81.0" fill="url(#gb7)"/><rect x="362.5" y="1633.0" width="1872.5" height="81.0" fill="url(#gb8)"/><rect x="362.5" y="1714.0" width="1872.5" height="71.0" fill="url(#gb9)"/></g></g></g>
<g filter="url(#soft)"><rect x="383.0" y="1024.0" width="21.0" height="731.5999999999999" fill="url(#gs)" mask="url(#ms)"/></g>
<g filter="url(#soft)"><rect x="2310.3" y="464.3" width="74.09999999999991" height="946.7" fill="url(#gc)"/><rect x="2311.3" y="465.3" width="72.09999999999991" height="944.7" fill="none" stroke="#1a0a10" stroke-opacity="0.55" stroke-width="2"/><rect x="2375.4" y="555.0" width="8" height="5" rx="2" fill="#201010" fill-opacity="0.7"/><rect x="2375.4" y="649.6" width="8" height="5" rx="2" fill="#201010" fill-opacity="0.7"/><rect x="2375.4" y="744.3" width="8" height="5" rx="2" fill="#201010" fill-opacity="0.7"/><rect x="2375.4" y="839.0" width="8" height="5" rx="2" fill="#201010" fill-opacity="0.7"/><rect x="2375.4" y="933.7" width="8" height="5" rx="2" fill="#201010" fill-opacity="0.7"/><rect x="2375.4" y="1028.3" width="8" height="5" rx="2" fill="#201010" fill-opacity="0.7"/><rect x="2375.4" y="1123.0" width="8" height="5" rx="2" fill="#201010" fill-opacity="0.7"/><rect x="2375.4" y="1217.7" width="8" height="5" rx="2" fill="#201010" fill-opacity="0.7"/><rect x="2375.4" y="1312.3" width="8" height="5" rx="2" fill="#201010" fill-opacity="0.7"/></g>
<g filter="url(#soft)" fill="#0a0a0a" stroke="none"><rect x="376.4" y="67.5" width="2.6" height="778.5" fill="#8a92a0"/><rect x="379.0" y="59.5" width="4.6" height="786.5"/><path d="M381.3 20.0 L395.8 71.5 L381.3 61.5 L366.8 71.5 Z"/><rect x="376.4" y="843.4" width="1869.9" height="2.6" fill="#5c6470"/><rect x="376.4" y="838.8000000000001" width="1877.9" height="4.6"/><path d="M2293.8 841.7 L2242.3 828.45 L2252.3 841.7 L2242.3 854.95 Z"/><rect x="376.4" y="979.5" width="2.6" height="780.8999999999999" fill="#8a92a0"/><rect x="379.0" y="971.5" width="4.6" height="788.8999999999999"/><path d="M381.3 932.0 L395.8 983.5 L381.3 973.5 L366.8 983.5 Z"/><rect x="376.4" y="1757.8" width="1869.9" height="2.6" fill="#5c6470"/><rect x="376.4" y="1753.2" width="1877.9" height="4.6"/><path d="M2293.8 1756.1 L2242.3 1742.85 L2252.3 1756.1 L2242.3 1769.35 Z"/><rect x="482.9" y="805.1" width="5.6" height="36.0" fill-opacity="0.85"/><rect x="598.2" y="823.1" width="5.6" height="18.0" fill-opacity="0.75"/><rect x="713.5" y="805.1" width="5.6" height="36.0" fill-opacity="0.85"/><rect x="828.8" y="823.1" width="5.6" height="18.0" fill-opacity="0.75"/><rect x="944.1" y="805.1" width="5.6" height="36.0" fill-opacity="0.85"/><rect x="1059.4" y="823.1" width="5.6" height="18.0" fill-opacity="0.75"/><rect x="1174.7" y="805.1" width="5.6" height="36.0" fill-opacity="0.85"/><rect x="1290.0" y="823.1" width="5.6" height="18.0" fill-opacity="0.75"/><rect x="1405.3" y="805.1" width="5.6" height="36.0" fill-opacity="0.85"/><rect x="1520.6" y="823.1" width="5.6" height="18.0" fill-opacity="0.75"/><rect x="1635.9" y="805.1" width="5.6" height="36.0" fill-opacity="0.85"/><rect x="1751.3" y="823.1" width="5.6" height="18.0" fill-opacity="0.75"/><rect x="1866.6" y="805.1" width="5.6" height="36.0" fill-opacity="0.85"/><rect x="1981.9" y="823.1" width="5.6" height="18.0" fill-opacity="0.75"/><rect x="2097.2" y="805.1" width="5.6" height="36.0" fill-opacity="0.85"/><rect x="482.9" y="1719.5" width="5.6" height="36.0" fill-opacity="0.85"/><rect x="598.2" y="1737.5" width="5.6" height="18.0" fill-opacity="0.75"/><rect x="713.5" y="1719.5" width="5.6" height="36.0" fill-opacity="0.85"/><rect x="828.8" y="1737.5" width="5.6" height="18.0" fill-opacity="0.75"/><rect x="944.1" y="1719.5" width="5.6" height="36.0" fill-opacity="0.85"/><rect x="1059.4" y="1737.5" width="5.6" height="18.0" fill-opacity="0.75"/><rect x="1174.7" y="1719.5" width="5.6" height="36.0" fill-opacity="0.85"/><rect x="1290.0" y="1737.5" width="5.6" height="18.0" fill-opacity="0.75"/><rect x="1405.3" y="1719.5" width="5.6" height="36.0" fill-opacity="0.85"/><rect x="1520.6" y="1737.5" width="5.6" height="18.0" fill-opacity="0.75"/><rect x="1635.9" y="1719.5" width="5.6" height="36.0" fill-opacity="0.85"/><rect x="1751.3" y="1737.5" width="5.6" height="18.0" fill-opacity="0.75"/><rect x="1866.6" y="1719.5" width="5.6" height="36.0" fill-opacity="0.85"/><rect x="1981.9" y="1737.5" width="5.6" height="18.0" fill-opacity="0.75"/><rect x="2097.2" y="1719.5" width="5.6" height="36.0" fill-opacity="0.85"/><rect x="381.3" y="191.7" width="18.69999999999999" height="4.6" fill-opacity="0.8"/><rect x="381.3" y="272.4" width="18.69999999999999" height="4.6" fill-opacity="0.8"/><rect x="381.3" y="353.0" width="34.19999999999999" height="4.6" fill-opacity="0.8"/><rect x="381.3" y="433.0" width="18.69999999999999" height="4.6" fill-opacity="0.8"/><rect x="381.3" y="513.2" width="18.69999999999999" height="4.6" fill-opacity="0.8"/><rect x="381.3" y="593.7" width="34.19999999999999" height="4.6" fill-opacity="0.8"/><rect x="381.3" y="673.7" width="18.69999999999999" height="4.6" fill-opacity="0.8"/><rect x="381.3" y="754.7" width="18.69999999999999" height="4.6" fill-opacity="0.8"/><rect x="381.3" y="1024.00" width="18.19999999999999" height="4.8"/><rect x="381.3" y="1040.10" width="18.19999999999999" height="4.8"/><rect x="381.3" y="1056.20" width="18.19999999999999" height="4.8"/><rect x="381.3" y="1072.30" width="18.19999999999999" height="4.8"/><rect x="381.3" y="1088.40" width="18.19999999999999" height="4.8"/><rect x="381.3" y="1104.50" width="18.19999999999999" height="4.8"/><rect x="381.3" y="1120.60" width="18.19999999999999" height="4.8"/><rect x="381.3" y="1136.70" width="18.19999999999999" height="4.8"/><rect x="381.3" y="1152.80" width="18.19999999999999" height="4.8"/><rect x="381.3" y="1168.90" width="18.19999999999999" height="4.8"/><rect x="381.3" y="1185.00" width="18.19999999999999" height="4.8"/><rect x="381.3" y="1201.10" width="18.19999999999999" height="4.8"/><rect x="381.3" y="1217.20" width="18.19999999999999" height="4.8"/><rect x="381.3" y="1233.30" width="18.19999999999999" height="4.8"/><rect x="381.3" y="1249.40" width="18.19999999999999" height="4.8"/><rect x="381.3" y="1265.50" width="18.19999999999999" height="4.8"/><rect x="381.3" y="1281.60" width="18.19999999999999" height="4.8"/><rect x="381.3" y="1297.70" width="18.19999999999999" height="4.8"/><rect x="381.3" y="1313.80" width="18.19999999999999" height="4.8"/><rect x="381.3" y="1329.90" width="18.19999999999999" height="4.8"/><rect x="381.3" y="1346.00" width="18.19999999999999" height="4.8"/><rect x="381.3" y="1362.10" width="18.19999999999999" height="4.8"/><rect x="381.3" y="1378.20" width="18.19999999999999" height="4.8"/><rect x="381.3" y="1394.30" width="18.19999999999999" height="4.8"/><rect x="381.3" y="1410.40" width="18.19999999999999" height="4.8"/><rect x="381.3" y="1426.50" width="18.19999999999999" height="4.8"/><rect x="381.3" y="1442.60" width="18.19999999999999" height="4.8"/><rect x="381.3" y="1458.70" width="18.19999999999999" height="4.8"/><rect x="381.3" y="1474.80" width="18.19999999999999" height="4.8"/><rect x="381.3" y="1490.90" width="18.19999999999999" height="4.8"/><rect x="381.3" y="1507.00" width="18.19999999999999" height="4.8"/><rect x="381.3" y="1523.10" width="18.19999999999999" height="4.8"/><rect x="381.3" y="1539.20" width="18.19999999999999" height="4.8"/><rect x="381.3" y="1555.30" width="18.19999999999999" height="4.8"/><rect x="381.3" y="1571.40" width="18.19999999999999" height="4.8"/><rect x="381.3" y="1587.50" width="18.19999999999999" height="4.8"/><rect x="381.3" y="1603.60" width="18.19999999999999" height="4.8"/><rect x="381.3" y="1619.70" width="18.19999999999999" height="4.8"/><rect x="381.3" y="1635.80" width="18.19999999999999" height="4.8"/><rect x="381.3" y="1651.90" width="18.19999999999999" height="4.8"/><rect x="381.3" y="1668.00" width="18.19999999999999" height="4.8"/><rect x="381.3" y="1684.10" width="18.19999999999999" height="4.8"/><rect x="381.3" y="1700.20" width="18.19999999999999" height="4.8"/><rect x="381.3" y="1716.30" width="18.19999999999999" height="4.8"/><rect x="381.3" y="1732.40" width="18.19999999999999" height="4.8"/><rect x="381.3" y="1121.0" width="33.0" height="4" fill-opacity="0.85"/><rect x="381.3" y="1330.3" width="33.0" height="4" fill-opacity="0.85"/><rect x="381.3" y="1539.6" width="33.0" height="4" fill-opacity="0.85"/></g>
<g filter="url(#soft)" fill="#c4c9e2" fill-opacity="0.75"><rect x="367.3" y="1107.0" width="4" height="18" rx="1.5"/><rect x="367.3" y="1329.0" width="4" height="18" rx="1.5"/><rect x="367.3" y="1543.0" width="4" height="12" rx="1.5"/><rect x="367.3" y="1748.0" width="4" height="12" rx="1.5"/></g>
<rect x="1254" y="0" width="20" height="1" fill="#000"/><rect x="2306" y="0" width="13" height="1" fill="#000"/>
<g filter="url(#tb)" fill="#0a0a0a" font-family="&quot;Liberation Sans&quot;, sans-serif"><text><tspan x="19.2" y="136.7" font-size="124" stroke="#0a0a0a" stroke-width="2.5" stroke-linejoin="round" textLength="43.37" lengthAdjust="spacingAndGlyphs">(</tspan><tspan x="73.6" y="142.2" font-size="132" font-weight="bold" textLength="60.21" lengthAdjust="spacingAndGlyphs">a</tspan><tspan x="152.4" y="136.7" font-size="124" stroke="#0a0a0a" stroke-width="2.5" stroke-linejoin="round" textLength="43.37" lengthAdjust="spacingAndGlyphs">)</tspan></text><text><tspan x="19.2" y="1066" font-size="124" stroke="#0a0a0a" stroke-width="2.5" stroke-linejoin="round" textLength="43.37" lengthAdjust="spacingAndGlyphs">(</tspan><tspan x="72.7" y="1069.6" font-size="137" font-weight="bold" textLength="79.51" lengthAdjust="spacingAndGlyphs">b</tspan><tspan x="161.6" y="1066" font-size="124" stroke="#0a0a0a" stroke-width="2.5" stroke-linejoin="round" textLength="43.37" lengthAdjust="spacingAndGlyphs">)</tspan></text><text x="302" y="156.1" font-size="62.5" stroke="#0a0a0a" stroke-width="1.3" stroke-linejoin="round">90</text><text x="333.2" y="839.2" font-size="62.5" stroke="#0a0a0a" stroke-width="1.3" stroke-linejoin="round">0</text><text x="377.4" y="903.4" font-size="62.5" stroke="#0a0a0a" stroke-width="1.3" stroke-linejoin="round">410</text><text x="2085" y="903.9" font-size="62.5" stroke="#0a0a0a" stroke-width="1.3" stroke-linejoin="round">2000</text><text x="302.7" y="1068.8" font-size="62.5" textLength="66.7" lengthAdjust="spacingAndGlyphs" stroke="#0a0a0a" stroke-width="1.3" stroke-linejoin="round">45</text><text x="334.2" y="1753.4" font-size="62.5" stroke="#0a0a0a" stroke-width="1.3" stroke-linejoin="round">0</text><text x="378.4" y="1818.3" font-size="62.5" stroke="#0a0a0a" stroke-width="1.3" stroke-linejoin="round">410</text><text x="2085" y="1818.8" font-size="62.5" stroke="#0a0a0a" stroke-width="1.3" stroke-linejoin="round">2000</text><text x="889.3" y="935" font-size="93.5" stroke="#0a0a0a" stroke-width="3.0" stroke-linejoin="round">Wavelength(nm)</text><text x="890.8" y="1857" font-size="102" stroke="#0a0a0a" stroke-width="3.2" stroke-linejoin="round">Wavelength(nm)</text><text transform="translate(279 881) rotate(-90)" font-size="84.5" textLength="770.4" lengthAdjust="spacingAndGlyphs" stroke="#0a0a0a" stroke-width="3.0" stroke-linejoin="round">Polarization angle(°)</text><text transform="translate(284.5 1734.3) rotate(-90)" font-size="91.5" textLength="688.6" lengthAdjust="spacingAndGlyphs" stroke="#0a0a0a" stroke-width="3.2" stroke-linejoin="round">Incident angle(°)</text><text x="2272.6" y="436" font-size="78.5" stroke="#0a0a0a" stroke-width="2.2" stroke-linejoin="round">Max</text><text x="2283.1" y="1492.5" font-size="78.5" textLength="138.9" lengthAdjust="spacingAndGlyphs" stroke="#0a0a0a" stroke-width="2.2" stroke-linejoin="round">Min</text></g>
</svg>
</body>
</html>
